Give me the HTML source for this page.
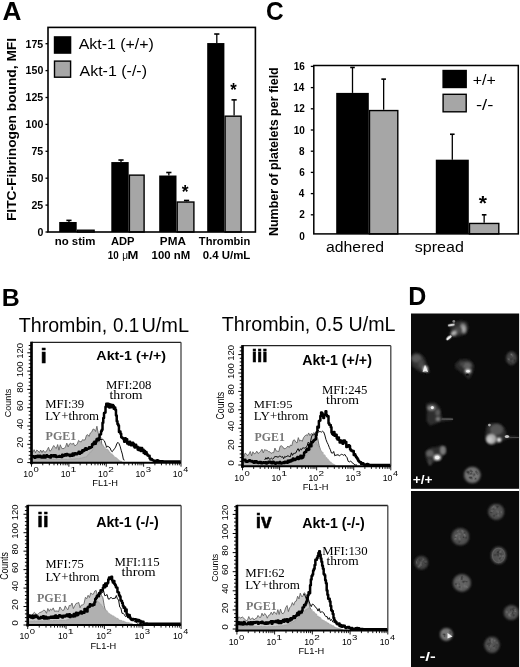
<!DOCTYPE html>
<html><head><meta charset="utf-8"><style>
html,body{margin:0;padding:0;background:#fff;}
body{width:520px;height:667px;overflow:hidden;}
svg{display:block;will-change:transform;}
</style></head><body>
<svg width="520" height="667" viewBox="0 0 520 667">
<rect width="520" height="667" fill="#fff"/>
<text x="2.54" y="20.20" font-family="Liberation Sans" font-size="25" font-weight="bold" fill="#000" textLength="18.94" lengthAdjust="spacingAndGlyphs" >A</text>
<line x1="68.95" y1="221.99" x2="68.95" y2="220.38" stroke="#000" stroke-width="1.3" />
<line x1="66.35" y1="220.38" x2="71.55" y2="220.38" stroke="#000" stroke-width="1.6" />
<rect x="59.20" y="221.99" width="17.50" height="10.01" fill="#000" />
<rect x="77.40" y="230.23" width="16.70" height="1.77" fill="#a6a6a6" stroke="#000" stroke-width="1.4" />
<line x1="121.00" y1="162.06" x2="121.00" y2="160.02" stroke="#000" stroke-width="1.3" />
<line x1="118.40" y1="160.02" x2="123.60" y2="160.02" stroke="#000" stroke-width="1.6" />
<rect x="111.30" y="162.06" width="17.40" height="69.94" fill="#000" />
<rect x="129.40" y="175.13" width="14.70" height="56.87" fill="#a6a6a6" stroke="#000" stroke-width="1.4" />
<line x1="168.85" y1="175.51" x2="168.85" y2="172.50" stroke="#000" stroke-width="1.3" />
<line x1="166.25" y1="172.50" x2="171.45" y2="172.50" stroke="#000" stroke-width="1.6" />
<rect x="159.20" y="175.51" width="17.30" height="56.49" fill="#000" />
<line x1="186.55" y1="201.33" x2="186.55" y2="200.47" stroke="#000" stroke-width="1.3" />
<line x1="183.95" y1="200.47" x2="189.15" y2="200.47" stroke="#000" stroke-width="1.6" />
<rect x="177.20" y="202.03" width="16.70" height="29.97" fill="#a6a6a6" stroke="#000" stroke-width="1.4" />
<line x1="216.80" y1="43.05" x2="216.80" y2="34.02" stroke="#000" stroke-width="1.3" />
<line x1="214.20" y1="34.02" x2="219.40" y2="34.02" stroke="#000" stroke-width="1.6" />
<rect x="207.20" y="43.05" width="17.20" height="188.95" fill="#000" />
<line x1="234.10" y1="115.47" x2="234.10" y2="99.87" stroke="#000" stroke-width="1.3" />
<line x1="231.50" y1="99.87" x2="236.70" y2="99.87" stroke="#000" stroke-width="1.6" />
<rect x="225.10" y="116.17" width="16.00" height="115.83" fill="#a6a6a6" stroke="#000" stroke-width="1.4" />
<rect x="48.0" y="27.4" width="207.4" height="204.6" fill="none" stroke="#000" stroke-width="1.6"/>
<line x1="45.50" y1="232.00" x2="48.00" y2="232.00" stroke="#000" stroke-width="1.3" />
<text x="37.39" y="235.80" font-family="Liberation Sans" font-size="10.6" font-weight="bold" fill="#000" >0</text>
<line x1="45.50" y1="205.10" x2="48.00" y2="205.10" stroke="#000" stroke-width="1.3" />
<text x="31.40" y="208.90" font-family="Liberation Sans" font-size="10.6" font-weight="bold" fill="#000" >25</text>
<line x1="45.50" y1="178.20" x2="48.00" y2="178.20" stroke="#000" stroke-width="1.3" />
<text x="31.50" y="182.00" font-family="Liberation Sans" font-size="10.6" font-weight="bold" fill="#000" >50</text>
<line x1="45.50" y1="151.30" x2="48.00" y2="151.30" stroke="#000" stroke-width="1.3" />
<text x="31.40" y="155.10" font-family="Liberation Sans" font-size="10.6" font-weight="bold" fill="#000" >75</text>
<line x1="45.50" y1="124.40" x2="48.00" y2="124.40" stroke="#000" stroke-width="1.3" />
<text x="25.62" y="128.20" font-family="Liberation Sans" font-size="10.6" font-weight="bold" fill="#000" >100</text>
<line x1="45.50" y1="97.50" x2="48.00" y2="97.50" stroke="#000" stroke-width="1.3" />
<text x="25.52" y="101.30" font-family="Liberation Sans" font-size="10.6" font-weight="bold" fill="#000" >125</text>
<line x1="45.50" y1="70.60" x2="48.00" y2="70.60" stroke="#000" stroke-width="1.3" />
<text x="25.62" y="74.40" font-family="Liberation Sans" font-size="10.6" font-weight="bold" fill="#000" >150</text>
<line x1="45.50" y1="43.70" x2="48.00" y2="43.70" stroke="#000" stroke-width="1.3" />
<text x="25.52" y="47.50" font-family="Liberation Sans" font-size="10.6" font-weight="bold" fill="#000" >175</text>
<rect x="53.80" y="36.20" width="17.50" height="17.60" fill="#000" />
<rect x="54.50" y="61.10" width="16.10" height="16.10" fill="#a6a6a6" stroke="#000" stroke-width="1.4" />
<text x="78.65" y="49.40" font-family="Liberation Sans" font-size="14.3" font-weight="normal" fill="#000" textLength="75.29" lengthAdjust="spacingAndGlyphs" >Akt-1 (+/+)</text>
<text x="79.50" y="76.40" font-family="Liberation Sans" font-size="14.3" font-weight="normal" fill="#000" textLength="67.51" lengthAdjust="spacingAndGlyphs" >Akt-1 (-/-)</text>
<text x="181.70" y="198.05" font-family="Liberation Sans" font-size="18.92" font-weight="bold" fill="#000" textLength="6.79" lengthAdjust="spacingAndGlyphs" >*</text>
<text x="230.20" y="96.12" font-family="Liberation Sans" font-size="17.57" font-weight="bold" fill="#000" textLength="6.49" lengthAdjust="spacingAndGlyphs" >*</text>
<text x="54.66" y="245.10" font-family="Liberation Sans" font-size="10.6" font-weight="bold" fill="#000" textLength="40.64" lengthAdjust="spacingAndGlyphs" >no stim</text>
<text x="110.92" y="245.10" font-family="Liberation Sans" font-size="10.6" font-weight="bold" fill="#000" textLength="23.63" lengthAdjust="spacingAndGlyphs" >ADP</text>
<text x="107.81" y="259.00" font-family="Liberation Sans" font-size="10.6" font-weight="bold" fill="#000" textLength="10.96" lengthAdjust="spacingAndGlyphs" >10</text>
<text x="122.32" y="259.00" font-family="Liberation Sans" font-size="10.0" font-weight="normal" fill="#000" >μ</text>
<text x="127.55" y="259.00" font-family="Liberation Sans" font-size="10.6" font-weight="bold" fill="#000" textLength="10.87" lengthAdjust="spacingAndGlyphs" >M</text>
<text x="159.84" y="245.10" font-family="Liberation Sans" font-size="10.6" font-weight="bold" fill="#000" textLength="26.02" lengthAdjust="spacingAndGlyphs" >PMA</text>
<text x="151.62" y="259.30" font-family="Liberation Sans" font-size="10.6" font-weight="bold" fill="#000" textLength="38.52" lengthAdjust="spacingAndGlyphs" >100 nM</text>
<text x="198.89" y="245.10" font-family="Liberation Sans" font-size="10.6" font-weight="bold" fill="#000" textLength="51.38" lengthAdjust="spacingAndGlyphs" >Thrombin</text>
<text x="202.70" y="259.30" font-family="Liberation Sans" font-size="10.6" font-weight="bold" fill="#000" textLength="47.62" lengthAdjust="spacingAndGlyphs" >0.4 U/mL</text>
<text x="-221.09" y="15.60" font-family="Liberation Sans" font-size="13.2" font-weight="bold" fill="#000" textLength="183.12" lengthAdjust="spacingAndGlyphs" transform="rotate(-90)">FITC-Fibrinogen bound, MFI</text>
<text x="266.02" y="20.20" font-family="Liberation Sans" font-size="25" font-weight="bold" fill="#000" textLength="17.64" lengthAdjust="spacingAndGlyphs" >C</text>
<line x1="352.50" y1="92.90" x2="352.50" y2="67.46" stroke="#000" stroke-width="1.3" />
<line x1="350.20" y1="67.46" x2="354.80" y2="67.46" stroke="#000" stroke-width="1.6" />
<rect x="336.20" y="92.90" width="32.60" height="141.00" fill="#000" />
<line x1="383.65" y1="109.86" x2="383.65" y2="79.12" stroke="#000" stroke-width="1.3" />
<line x1="381.35" y1="79.12" x2="385.95" y2="79.12" stroke="#000" stroke-width="1.6" />
<rect x="369.50" y="110.56" width="28.30" height="123.34" fill="#a6a6a6" stroke="#000" stroke-width="1.4" />
<line x1="452.30" y1="159.68" x2="452.30" y2="134.24" stroke="#000" stroke-width="1.3" />
<line x1="450.00" y1="134.24" x2="454.60" y2="134.24" stroke="#000" stroke-width="1.6" />
<rect x="435.80" y="159.68" width="33.00" height="74.22" fill="#000" />
<line x1="484.15" y1="222.75" x2="484.15" y2="214.80" stroke="#000" stroke-width="1.3" />
<line x1="481.85" y1="214.80" x2="486.45" y2="214.80" stroke="#000" stroke-width="1.6" />
<rect x="469.50" y="223.45" width="29.30" height="10.45" fill="#a6a6a6" stroke="#000" stroke-width="1.4" />
<rect x="313.8" y="65.5" width="204.49999999999994" height="168.4" fill="none" stroke="#000" stroke-width="1.5"/>
<text x="299.20" y="239.50" font-family="Liberation Sans" font-size="10.0" font-weight="bold" fill="#000" >0</text>
<line x1="310.80" y1="214.80" x2="313.80" y2="214.80" stroke="#000" stroke-width="1.3" />
<text x="299.20" y="218.30" font-family="Liberation Sans" font-size="10.0" font-weight="bold" fill="#000" >2</text>
<line x1="310.80" y1="193.60" x2="313.80" y2="193.60" stroke="#000" stroke-width="1.3" />
<text x="298.85" y="197.10" font-family="Liberation Sans" font-size="10.0" font-weight="bold" fill="#000" >4</text>
<line x1="310.80" y1="172.40" x2="313.80" y2="172.40" stroke="#000" stroke-width="1.3" />
<text x="299.20" y="175.90" font-family="Liberation Sans" font-size="10.0" font-weight="bold" fill="#000" >6</text>
<line x1="310.80" y1="151.20" x2="313.80" y2="151.20" stroke="#000" stroke-width="1.3" />
<text x="299.10" y="154.70" font-family="Liberation Sans" font-size="10.0" font-weight="bold" fill="#000" >8</text>
<line x1="310.80" y1="130.00" x2="313.80" y2="130.00" stroke="#000" stroke-width="1.3" />
<text x="293.65" y="133.50" font-family="Liberation Sans" font-size="10.0" font-weight="bold" fill="#000" >10</text>
<line x1="310.80" y1="108.80" x2="313.80" y2="108.80" stroke="#000" stroke-width="1.3" />
<text x="293.65" y="112.30" font-family="Liberation Sans" font-size="10.0" font-weight="bold" fill="#000" >12</text>
<line x1="310.80" y1="87.60" x2="313.80" y2="87.60" stroke="#000" stroke-width="1.3" />
<text x="293.30" y="91.10" font-family="Liberation Sans" font-size="10.0" font-weight="bold" fill="#000" >14</text>
<line x1="310.80" y1="66.40" x2="313.80" y2="66.40" stroke="#000" stroke-width="1.3" />
<text x="293.65" y="69.90" font-family="Liberation Sans" font-size="10.0" font-weight="bold" fill="#000" >16</text>
<rect x="442.40" y="69.80" width="24.50" height="18.40" fill="#000" />
<rect x="443.10" y="94.30" width="23.10" height="17.50" fill="#a6a6a6" stroke="#000" stroke-width="1.4" />
<text x="472.68" y="85.00" font-family="Liberation Sans" font-size="14" font-weight="normal" fill="#000" textLength="23.03" lengthAdjust="spacingAndGlyphs" >+/+</text>
<text x="475.96" y="109.50" font-family="Liberation Sans" font-size="14" font-weight="normal" fill="#000" textLength="17.45" lengthAdjust="spacingAndGlyphs" >-/-</text>
<text x="478.80" y="209.55" font-family="Liberation Sans" font-size="21.08" font-weight="bold" fill="#000" >*</text>
<text x="326.07" y="251.90" font-family="Liberation Sans" font-size="15.5" font-weight="normal" fill="#000" textLength="57.88" lengthAdjust="spacingAndGlyphs" >adhered</text>
<text x="414.80" y="251.90" font-family="Liberation Sans" font-size="15.5" font-weight="normal" fill="#000" textLength="49.01" lengthAdjust="spacingAndGlyphs" >spread</text>
<text x="-236.11" y="277.60" font-family="Liberation Sans" font-size="12.4" font-weight="bold" fill="#000" textLength="168.86" lengthAdjust="spacingAndGlyphs" transform="rotate(-90)">Number of platelets per field</text>
<text x="1.88" y="305.80" font-family="Liberation Sans" font-size="24" font-weight="bold" fill="#000" textLength="17.97" lengthAdjust="spacingAndGlyphs" >B</text>
<text x="18.81" y="331.70" font-family="Liberation Sans" font-size="19.5" font-weight="normal" fill="#000" textLength="88.29" lengthAdjust="spacingAndGlyphs" >Thrombin,</text>
<text x="113.04" y="331.70" font-family="Liberation Sans" font-size="19.5" font-weight="normal" fill="#000" textLength="26.21" lengthAdjust="spacingAndGlyphs" >0.1</text>
<text x="141.40" y="331.70" font-family="Liberation Sans" font-size="19.5" font-weight="normal" fill="#000" textLength="47.68" lengthAdjust="spacingAndGlyphs" >U/mL</text>
<text x="221.81" y="331.40" font-family="Liberation Sans" font-size="19.5" font-weight="normal" fill="#000" textLength="173.72" lengthAdjust="spacingAndGlyphs" >Thrombin, 0.5 U/mL</text>
<g>
<path d="M31.50,451.59 L32.81,452.45 L34.12,449.64 L35.42,452.72 L36.73,450.10 L38.04,450.95 L39.35,452.58 L40.66,450.00 L41.97,452.55 L43.27,450.24 L44.58,452.21 L45.89,451.96 L47.20,449.84 L48.51,447.26 L49.81,451.16 L51.12,450.36 L52.43,447.70 L53.74,445.51 L55.05,447.53 L56.35,448.42 L57.66,444.55 L58.97,450.20 L60.28,444.78 L61.59,448.11 L62.90,448.67 L64.20,448.46 L65.51,446.83 L66.82,443.13 L68.13,446.89 L69.44,443.89 L70.74,443.13 L72.05,444.48 L73.36,442.95 L74.67,445.73 L75.98,445.36 L77.28,443.95 L78.59,440.41 L79.90,441.60 L81.21,441.89 L82.52,439.67 L83.82,440.08 L85.13,439.81 L86.44,435.32 L87.75,434.67 L89.06,436.37 L90.37,432.95 L91.67,432.15 L92.98,429.13 L94.29,429.33 L95.60,431.46 L96.91,426.21 L98.21,433.15 L99.52,435.26 L100.83,437.42 L102.14,446.12 L103.45,449.04 L104.75,456.27 L106.06,460.17 L106.06,462.70 L31.50,462.70 Z" fill="#bdbdbd" stroke="#555" stroke-width="0.8" stroke-linejoin="round"/>
<path d="M31.50,459.06 L32.25,459.06 L32.25,459.19 L32.99,459.19 L32.99,458.99 L33.74,458.99 L33.74,459.36 L34.49,459.36 L34.49,459.11 L35.24,459.11 L35.24,459.18 L35.98,459.18 L35.98,459.18 L36.73,459.18 L36.73,459.27 L37.48,459.27 L37.48,459.02 L38.23,459.02 L38.23,458.95 L38.98,458.95 L38.98,459.25 L39.72,459.25 L39.72,459.13 L40.47,459.13 L40.47,459.52 L41.22,459.52 L41.22,459.11 L41.96,459.11 L41.96,459.14 L42.71,459.14 L42.71,458.92 L43.46,458.92 L43.46,459.03 L44.21,459.03 L44.21,459.38 L44.95,459.38 L44.95,459.31 L45.70,459.31 L45.70,459.13 L46.45,459.13 L46.45,459.55 L47.20,459.55 L47.20,459.26 L47.95,459.26 L47.95,459.45 L48.69,459.45 L48.69,459.49 L49.44,459.49 L49.44,459.52 L50.19,459.52 L50.19,459.06 L50.94,459.06 L50.94,459.48 L51.68,459.48 L51.68,459.40 L52.43,459.40 L52.43,459.31 L53.18,459.31 L53.18,458.99 L53.93,458.99 L53.93,459.51 L54.67,459.51 L54.67,459.27 L55.42,459.27 L55.42,459.20 L56.17,459.20 L56.17,458.99 L56.92,458.99 L56.92,459.03 L57.66,459.03 L57.66,459.00 L58.41,459.00 L58.41,459.38 L59.16,459.38 L59.16,459.29 L59.91,459.29 L59.91,459.33 L60.65,459.33 L60.65,458.99 L61.40,458.99 L61.40,458.94 L62.15,458.94 L62.15,459.46 L62.90,459.46 L62.90,459.45 L63.64,459.45 L63.64,459.41 L64.39,459.41 L64.39,459.41 L65.14,459.41 L65.14,459.25 L65.89,459.25 L65.89,459.18 L66.63,459.18 L66.63,459.39 L67.38,459.39 L67.38,459.56 L68.13,459.56 L68.13,459.29 L68.88,459.29 L68.88,459.32 L69.62,459.32 L69.62,459.15 L70.37,459.15 L70.37,458.86 L71.12,458.86 L71.12,458.99 L71.87,458.99 L71.87,459.07 L72.61,459.07 L72.61,458.96 L73.36,458.96 L73.36,458.88 L74.11,458.88 L74.11,459.26 L74.86,459.26 L74.86,458.65 L75.60,458.65 L75.60,458.69 L76.35,458.69 L76.35,458.59 L77.10,458.59 L77.10,458.60 L77.85,458.60 L77.85,458.75 L78.59,458.75 L78.59,458.54 L79.34,458.54 L79.34,458.54 L80.09,458.54 L80.09,457.94 L80.84,457.94 L80.84,458.15 L81.58,458.15 L81.58,457.94 L82.33,457.94 L82.33,457.63 L83.08,457.63 L83.08,457.45 L83.83,457.45 L83.83,457.10 L84.57,457.10 L84.57,457.13 L85.32,457.13 L85.32,456.96 L86.07,456.96 L86.07,456.63 L86.82,456.63 L86.82,455.89 L87.56,455.89 L87.56,454.85 L88.31,454.85 L88.31,454.39 L89.06,454.39 L89.06,452.72 L89.81,452.72 L89.81,452.18 L90.55,452.18 L90.55,451.90 L91.30,451.90 L91.30,450.90 L92.05,450.90 L92.05,449.83 L92.80,449.83 L92.80,448.85 L93.54,448.85 L93.54,448.22 L94.29,448.22 L94.29,446.22 L95.04,446.22 L95.04,445.04 L95.79,445.04 L95.79,444.83 L96.53,444.83 L96.53,443.94 L97.28,443.94 L97.28,443.74 L98.03,443.74 L98.03,442.94 L98.78,442.94 L98.78,441.81 L99.52,441.81 L99.52,442.68 L100.27,442.68 L100.27,442.62 L101.02,442.62 L101.02,444.34 L101.77,444.34 L101.77,445.29 L102.51,445.29 L102.51,444.70 L103.26,444.70 L103.26,446.07 L104.01,446.07 L104.01,447.33 L104.76,447.33 L104.76,447.47 L105.50,447.47 L105.50,448.89 L106.25,448.89 L106.25,448.92 L107.00,448.92 L107.00,449.06 L107.75,449.06 L107.75,449.94 L108.49,449.94 L108.49,450.86 L109.24,450.86 L109.24,452.11 L109.99,452.11 L109.99,452.73 L110.74,452.73 L110.74,453.68 L111.48,453.68 L111.48,453.82 L112.23,453.82 L112.23,454.81 L112.98,454.81 L112.98,455.34 L113.73,455.34 L113.73,456.48 L114.47,456.48 L114.47,457.17 L115.22,457.17 L115.22,457.32 L115.97,457.32 L115.97,457.81 L116.72,457.81 L116.72,458.53 L117.46,458.53 L117.46,459.18 L118.21,459.18 L118.21,459.79 L118.96,459.79 L118.96,460.46 L119.71,460.46 L119.71,460.97 L120.45,460.97 L120.45,461.04 L121.20,461.04 L121.20,461.27 L121.95,461.27 L121.95,461.50 L121.95,462.70 L31.50,462.70 Z" fill="#b0b0b0" stroke="#9a9a9a" stroke-width="0.4"/>
<path d="M98.78,437.74 L99.90,439.28 L101.02,439.68 L102.14,439.10 L103.26,439.80 L104.38,440.86 L105.50,443.96 L106.62,447.35 L107.75,446.16 L108.87,447.03 L109.99,447.74 L111.11,450.67 L112.23,451.73 L113.35,450.17 L114.47,448.77 L115.59,447.14 L116.71,444.02 L117.84,442.29 L118.96,443.54 L120.08,446.21 L121.20,450.27 L122.32,454.08 L123.44,459.70 L124.56,460.11" fill="none" stroke="#000" stroke-width="0.95" stroke-linejoin="round"/>
<path d="M31.50,455.99 L32.25,455.99 L32.25,456.27 L32.99,456.27 L32.99,456.33 L33.74,456.33 L33.74,456.96 L34.49,456.96 L34.49,457.65 L35.24,457.65 L35.24,456.16 L35.98,456.16 L35.98,457.24 L36.73,457.24 L36.73,456.08 L37.48,456.08 L37.48,455.64 L38.23,455.64 L38.23,457.02 L38.98,457.02 L38.98,456.98 L39.72,456.98 L39.72,455.63 L40.47,455.63 L40.47,456.15 L41.22,456.15 L41.22,457.48 L41.96,457.48 L41.96,457.56 L42.71,457.56 L42.71,457.48 L43.46,457.48 L43.46,455.61 L44.21,455.61 L44.21,455.82 L44.95,455.82 L44.95,457.43 L45.70,457.43 L45.70,455.72 L46.45,455.72 L46.45,455.32 L47.20,455.32 L47.20,456.10 L47.95,456.10 L47.95,456.84 L48.69,456.84 L48.69,456.32 L49.44,456.32 L49.44,457.34 L50.19,457.34 L50.19,457.61 L50.94,457.61 L50.94,455.19 L51.68,455.19 L51.68,455.97 L52.43,455.97 L52.43,456.26 L53.18,456.26 L53.18,455.21 L53.93,455.21 L53.93,456.44 L54.67,456.44 L54.67,455.31 L55.42,455.31 L55.42,455.40 L56.17,455.40 L56.17,456.94 L56.92,456.94 L56.92,456.82 L57.66,456.82 L57.66,456.69 L58.41,456.69 L58.41,456.80 L59.16,456.80 L59.16,455.89 L59.91,455.89 L59.91,456.71 L60.65,456.71 L60.65,456.28 L61.40,456.28 L61.40,456.91 L62.15,456.91 L62.15,454.78 L62.90,454.78 L62.90,456.12 L63.64,456.12 L63.64,455.74 L64.39,455.74 L64.39,455.29 L65.14,455.29 L65.14,454.32 L65.89,454.32 L65.89,455.51 L66.63,455.51 L66.63,454.04 L67.38,454.04 L67.38,455.07 L68.13,455.07 L68.13,454.88 L68.88,454.88 L68.88,454.79 L69.62,454.79 L69.62,456.10 L70.37,456.10 L70.37,454.80 L71.12,454.80 L71.12,455.43 L71.87,455.43 L71.87,455.84 L72.61,455.84 L72.61,453.43 L73.36,453.43 L73.36,455.15 L74.11,455.15 L74.11,454.16 L74.86,454.16 L74.86,453.30 L75.60,453.30 L75.60,453.69 L76.35,453.69 L76.35,454.18 L77.10,454.18 L77.10,453.30 L77.85,453.30 L77.85,452.88 L78.59,452.88 L78.59,451.84 L79.34,451.84 L79.34,453.73 L80.09,453.73 L80.09,451.95 L80.84,451.95 L80.84,452.69 L81.58,452.69 L81.58,452.31 L82.33,452.31 L82.33,450.29 L83.08,450.29 L83.08,450.91 L83.83,450.91 L83.83,450.41 L84.57,450.41 L84.57,449.32 L85.32,449.32 L85.32,448.37 L86.07,448.37 L86.07,449.77 L86.82,449.77 L86.82,448.75 L87.56,448.75 L87.56,448.80 L88.31,448.80 L88.31,448.42 L89.06,448.42 L89.06,447.31 L89.81,447.31 L89.81,447.94 L90.55,447.94 L90.55,447.24 L91.30,447.24 L91.30,447.11 L92.05,447.11 L92.05,444.25 L92.80,444.25 L92.80,444.45 L93.54,444.45 L93.54,442.82 L94.29,442.82 L94.29,441.69 L95.04,441.69 L95.04,443.80 L95.79,443.80 L95.79,441.65 L96.53,441.65 L96.53,439.13 L97.28,439.13 L97.28,438.72 L98.03,438.72 L98.03,440.28 L98.78,440.28 L98.78,438.21 L99.52,438.21 L99.52,434.68 L100.27,434.68 L100.27,434.14 L101.02,434.14 L101.02,431.27 L101.77,431.27 L101.77,429.86 L102.51,429.86 L102.51,422.87 L103.26,422.87 L103.26,417.98 L104.01,417.98 L104.01,413.09 L104.76,413.09 L104.76,412.49 L105.50,412.49 L105.50,406.79 L106.25,406.79 L106.25,403.77 L107.00,403.77 L107.00,406.54 L107.75,406.54 L107.75,403.84 L108.49,403.84 L108.49,403.99 L109.24,403.99 L109.24,407.60 L109.99,407.60 L109.99,404.61 L110.74,404.61 L110.74,407.22 L111.48,407.22 L111.48,407.04 L112.23,407.04 L112.23,405.06 L112.98,405.06 L112.98,405.74 L113.73,405.74 L113.73,408.66 L114.47,408.66 L114.47,407.48 L115.22,407.48 L115.22,409.65 L115.97,409.65 L115.97,415.49 L116.72,415.49 L116.72,421.18 L117.46,421.18 L117.46,423.97 L118.21,423.97 L118.21,425.53 L118.96,425.53 L118.96,431.90 L119.71,431.90 L119.71,431.39 L120.45,431.39 L120.45,433.70 L121.20,433.70 L121.20,437.34 L121.95,437.34 L121.95,437.79 L122.70,437.79 L122.70,438.33 L123.44,438.33 L123.44,439.31 L124.19,439.31 L124.19,441.75 L124.94,441.75 L124.94,438.24 L125.69,438.24 L125.69,439.59 L126.43,439.59 L126.43,439.29 L127.18,439.29 L127.18,443.49 L127.93,443.49 L127.93,443.17 L128.68,443.17 L128.68,444.53 L129.42,444.53 L129.42,441.69 L130.17,441.69 L130.17,444.28 L130.92,444.28 L130.92,445.27 L131.67,445.27 L131.67,444.43 L132.41,444.43 L132.41,442.80 L133.16,442.80 L133.16,443.69 L133.91,443.69 L133.91,446.62 L134.66,446.62 L134.66,447.58 L135.40,447.58 L135.40,444.73 L136.15,444.73 L136.15,446.74 L136.90,446.74 L136.90,446.63 L137.65,446.63 L137.65,449.55 L138.39,449.55 L138.39,450.03 L139.14,450.03 L139.14,447.85 L139.89,447.85 L139.89,449.27 L140.64,449.27 L140.64,451.00 L141.38,451.00 L141.38,448.07 L142.13,448.07 L142.13,449.73 L142.88,449.73 L142.88,449.77 L143.63,449.77 L143.63,452.90 L144.37,452.90 L144.37,450.90 L145.12,450.90 L145.12,454.10 L145.87,454.10 L145.87,452.21 L146.62,452.21 L146.62,454.08 L147.36,454.08 L147.36,455.21 L148.11,455.21 L148.11,455.63 L148.86,455.63 L148.86,455.74 L149.61,455.74 L149.61,458.30 L150.35,458.30 L150.35,459.54 L151.10,459.54 L151.10,458.99 L151.85,458.99 L151.85,459.81 L152.60,459.81 L152.60,460.30 L153.34,460.30 L153.34,460.44 L154.09,460.44 L154.09,460.88 L154.84,460.88 L154.84,460.86 L155.59,460.86 L155.59,460.91 L156.33,460.91 L156.33,461.00 L157.08,461.00 L157.08,460.33 L157.83,460.33 L157.83,461.19 L158.58,461.19 L158.58,460.92 L159.32,460.92 L159.32,461.50 L160.07,461.50 L160.07,461.33 L160.82,461.33 L160.82,461.50 L161.57,461.50 L161.57,461.25 L162.31,461.25 L162.31,461.34 L163.06,461.34 L163.06,461.42 L163.81,461.42 L163.81,461.50 L164.56,461.50 L164.56,461.50 L165.30,461.50 L165.30,461.50 L166.05,461.50 L166.05,461.50 L166.80,461.50 L166.80,461.50 L167.55,461.50 L167.55,461.50 L168.29,461.50 L168.29,461.50 L169.04,461.50 L169.04,461.50 L169.79,461.50 L169.79,461.50 L170.54,461.50 L170.54,461.50 L171.28,461.50 L171.28,461.50 L172.03,461.50 L172.03,461.50 L172.78,461.50 L172.78,461.50 L173.53,461.50 L173.53,461.50 L174.27,461.50 L174.27,461.50 L175.02,461.50 L175.02,461.50 L175.77,461.50 L175.77,461.50 L176.52,461.50 L176.52,461.50 L177.26,461.50 L177.26,461.50 L178.01,461.50 L178.01,461.50 L178.76,461.50 L178.76,461.50 L179.51,461.50 L179.51,461.50 L180.25,461.50 L180.25,461.50 L181.00,461.50 L181.00,461.50" fill="none" stroke="#000" stroke-width="2.5" stroke-linejoin="round"/>
<line x1="31.50" y1="342.30" x2="181.00" y2="342.30" stroke="#222" stroke-width="1.3" />
<line x1="181.00" y1="342.30" x2="181.00" y2="462.70" stroke="#444" stroke-width="1.3" />
<line x1="31.50" y1="341.70" x2="31.50" y2="464.20" stroke="#000" stroke-width="2.7" />
<line x1="30.20" y1="462.70" x2="181.00" y2="462.70" stroke="#000" stroke-width="2.0" />
<line x1="27.30" y1="462.60" x2="31.50" y2="462.60" stroke="#000" stroke-width="1.0" />
<line x1="28.70" y1="458.94" x2="31.50" y2="458.94" stroke="#000" stroke-width="1.0" />
<line x1="28.70" y1="455.28" x2="31.50" y2="455.28" stroke="#000" stroke-width="1.0" />
<line x1="28.70" y1="451.62" x2="31.50" y2="451.62" stroke="#000" stroke-width="1.0" />
<line x1="28.70" y1="447.96" x2="31.50" y2="447.96" stroke="#000" stroke-width="1.0" />
<line x1="27.30" y1="444.30" x2="31.50" y2="444.30" stroke="#000" stroke-width="1.0" />
<line x1="28.70" y1="440.64" x2="31.50" y2="440.64" stroke="#000" stroke-width="1.0" />
<line x1="28.70" y1="436.98" x2="31.50" y2="436.98" stroke="#000" stroke-width="1.0" />
<line x1="28.70" y1="433.32" x2="31.50" y2="433.32" stroke="#000" stroke-width="1.0" />
<line x1="28.70" y1="429.66" x2="31.50" y2="429.66" stroke="#000" stroke-width="1.0" />
<line x1="27.30" y1="426.00" x2="31.50" y2="426.00" stroke="#000" stroke-width="1.0" />
<line x1="28.70" y1="422.34" x2="31.50" y2="422.34" stroke="#000" stroke-width="1.0" />
<line x1="28.70" y1="418.68" x2="31.50" y2="418.68" stroke="#000" stroke-width="1.0" />
<line x1="28.70" y1="415.02" x2="31.50" y2="415.02" stroke="#000" stroke-width="1.0" />
<line x1="28.70" y1="411.36" x2="31.50" y2="411.36" stroke="#000" stroke-width="1.0" />
<line x1="27.30" y1="407.70" x2="31.50" y2="407.70" stroke="#000" stroke-width="1.0" />
<line x1="28.70" y1="404.04" x2="31.50" y2="404.04" stroke="#000" stroke-width="1.0" />
<line x1="28.70" y1="400.38" x2="31.50" y2="400.38" stroke="#000" stroke-width="1.0" />
<line x1="28.70" y1="396.72" x2="31.50" y2="396.72" stroke="#000" stroke-width="1.0" />
<line x1="28.70" y1="393.06" x2="31.50" y2="393.06" stroke="#000" stroke-width="1.0" />
<line x1="27.30" y1="389.40" x2="31.50" y2="389.40" stroke="#000" stroke-width="1.0" />
<line x1="28.70" y1="385.74" x2="31.50" y2="385.74" stroke="#000" stroke-width="1.0" />
<line x1="28.70" y1="382.08" x2="31.50" y2="382.08" stroke="#000" stroke-width="1.0" />
<line x1="28.70" y1="378.42" x2="31.50" y2="378.42" stroke="#000" stroke-width="1.0" />
<line x1="28.70" y1="374.76" x2="31.50" y2="374.76" stroke="#000" stroke-width="1.0" />
<line x1="27.30" y1="371.10" x2="31.50" y2="371.10" stroke="#000" stroke-width="1.0" />
<line x1="28.70" y1="367.44" x2="31.50" y2="367.44" stroke="#000" stroke-width="1.0" />
<line x1="28.70" y1="363.78" x2="31.50" y2="363.78" stroke="#000" stroke-width="1.0" />
<line x1="28.70" y1="360.12" x2="31.50" y2="360.12" stroke="#000" stroke-width="1.0" />
<line x1="28.70" y1="356.46" x2="31.50" y2="356.46" stroke="#000" stroke-width="1.0" />
<line x1="27.30" y1="352.80" x2="31.50" y2="352.80" stroke="#000" stroke-width="1.0" />
<line x1="28.70" y1="349.14" x2="31.50" y2="349.14" stroke="#000" stroke-width="1.0" />
<line x1="28.70" y1="345.48" x2="31.50" y2="345.48" stroke="#000" stroke-width="1.0" />
<text x="-463.40" y="22.60" font-family="Liberation Sans" font-size="8.8" font-weight="normal" fill="#000" textLength="5.62" lengthAdjust="spacingAndGlyphs" transform="rotate(-90)">0</text>
<text x="-447.68" y="22.60" font-family="Liberation Sans" font-size="8.8" font-weight="normal" fill="#000" textLength="10.64" lengthAdjust="spacingAndGlyphs" transform="rotate(-90)">20</text>
<text x="-429.09" y="22.60" font-family="Liberation Sans" font-size="8.8" font-weight="normal" fill="#000" textLength="10.33" lengthAdjust="spacingAndGlyphs" transform="rotate(-90)">40</text>
<text x="-411.08" y="22.60" font-family="Liberation Sans" font-size="8.8" font-weight="normal" fill="#000" textLength="10.64" lengthAdjust="spacingAndGlyphs" transform="rotate(-90)">60</text>
<text x="-392.68" y="22.60" font-family="Liberation Sans" font-size="8.8" font-weight="normal" fill="#000" textLength="10.53" lengthAdjust="spacingAndGlyphs" transform="rotate(-90)">80</text>
<text x="-377.16" y="22.60" font-family="Liberation Sans" font-size="8.8" font-weight="normal" fill="#000" textLength="15.77" lengthAdjust="spacingAndGlyphs" transform="rotate(-90)">100</text>
<text x="-358.86" y="22.60" font-family="Liberation Sans" font-size="8.8" font-weight="normal" fill="#000" textLength="15.77" lengthAdjust="spacingAndGlyphs" transform="rotate(-90)">120</text>
<line x1="31.50" y1="462.70" x2="31.50" y2="466.70" stroke="#000" stroke-width="0.9" />
<line x1="42.75" y1="462.70" x2="42.75" y2="465.30" stroke="#000" stroke-width="0.9" />
<line x1="49.33" y1="462.70" x2="49.33" y2="465.30" stroke="#000" stroke-width="0.9" />
<line x1="54.00" y1="462.70" x2="54.00" y2="465.30" stroke="#000" stroke-width="0.9" />
<line x1="57.62" y1="462.70" x2="57.62" y2="465.30" stroke="#000" stroke-width="0.9" />
<line x1="60.58" y1="462.70" x2="60.58" y2="465.30" stroke="#000" stroke-width="0.9" />
<line x1="63.09" y1="462.70" x2="63.09" y2="465.30" stroke="#000" stroke-width="0.9" />
<line x1="65.25" y1="462.70" x2="65.25" y2="465.30" stroke="#000" stroke-width="0.9" />
<line x1="67.16" y1="462.70" x2="67.16" y2="465.30" stroke="#000" stroke-width="0.9" />
<line x1="68.88" y1="462.70" x2="68.88" y2="466.70" stroke="#000" stroke-width="0.9" />
<line x1="80.13" y1="462.70" x2="80.13" y2="465.30" stroke="#000" stroke-width="0.9" />
<line x1="86.71" y1="462.70" x2="86.71" y2="465.30" stroke="#000" stroke-width="0.9" />
<line x1="91.38" y1="462.70" x2="91.38" y2="465.30" stroke="#000" stroke-width="0.9" />
<line x1="95.00" y1="462.70" x2="95.00" y2="465.30" stroke="#000" stroke-width="0.9" />
<line x1="97.96" y1="462.70" x2="97.96" y2="465.30" stroke="#000" stroke-width="0.9" />
<line x1="100.46" y1="462.70" x2="100.46" y2="465.30" stroke="#000" stroke-width="0.9" />
<line x1="102.63" y1="462.70" x2="102.63" y2="465.30" stroke="#000" stroke-width="0.9" />
<line x1="104.54" y1="462.70" x2="104.54" y2="465.30" stroke="#000" stroke-width="0.9" />
<line x1="106.25" y1="462.70" x2="106.25" y2="466.70" stroke="#000" stroke-width="0.9" />
<line x1="117.50" y1="462.70" x2="117.50" y2="465.30" stroke="#000" stroke-width="0.9" />
<line x1="124.08" y1="462.70" x2="124.08" y2="465.30" stroke="#000" stroke-width="0.9" />
<line x1="128.75" y1="462.70" x2="128.75" y2="465.30" stroke="#000" stroke-width="0.9" />
<line x1="132.37" y1="462.70" x2="132.37" y2="465.30" stroke="#000" stroke-width="0.9" />
<line x1="135.33" y1="462.70" x2="135.33" y2="465.30" stroke="#000" stroke-width="0.9" />
<line x1="137.84" y1="462.70" x2="137.84" y2="465.30" stroke="#000" stroke-width="0.9" />
<line x1="140.00" y1="462.70" x2="140.00" y2="465.30" stroke="#000" stroke-width="0.9" />
<line x1="141.91" y1="462.70" x2="141.91" y2="465.30" stroke="#000" stroke-width="0.9" />
<line x1="143.62" y1="462.70" x2="143.62" y2="466.70" stroke="#000" stroke-width="0.9" />
<line x1="154.88" y1="462.70" x2="154.88" y2="465.30" stroke="#000" stroke-width="0.9" />
<line x1="161.46" y1="462.70" x2="161.46" y2="465.30" stroke="#000" stroke-width="0.9" />
<line x1="166.13" y1="462.70" x2="166.13" y2="465.30" stroke="#000" stroke-width="0.9" />
<line x1="169.75" y1="462.70" x2="169.75" y2="465.30" stroke="#000" stroke-width="0.9" />
<line x1="172.71" y1="462.70" x2="172.71" y2="465.30" stroke="#000" stroke-width="0.9" />
<line x1="175.21" y1="462.70" x2="175.21" y2="465.30" stroke="#000" stroke-width="0.9" />
<line x1="177.38" y1="462.70" x2="177.38" y2="465.30" stroke="#000" stroke-width="0.9" />
<line x1="179.29" y1="462.70" x2="179.29" y2="465.30" stroke="#000" stroke-width="0.9" />
<line x1="181.00" y1="462.70" x2="181.00" y2="466.70" stroke="#000" stroke-width="0.9" />
<text x="23.33" y="477.11" font-family="Liberation Sans" font-size="8.73" font-weight="normal" fill="#000" >10</text>
<text x="33.57" y="471.93" font-family="Liberation Sans" font-size="6.62" font-weight="normal" fill="#000" textLength="5.28" lengthAdjust="spacingAndGlyphs" >0</text>
<text x="60.71" y="477.11" font-family="Liberation Sans" font-size="8.73" font-weight="normal" fill="#000" >10</text>
<text x="70.48" y="472.00" font-family="Liberation Sans" font-size="6.81" font-weight="normal" fill="#000" textLength="5.88" lengthAdjust="spacingAndGlyphs" >1</text>
<text x="98.08" y="477.11" font-family="Liberation Sans" font-size="8.73" font-weight="normal" fill="#000" >10</text>
<text x="108.15" y="472.00" font-family="Liberation Sans" font-size="6.71" font-weight="normal" fill="#000" textLength="5.56" lengthAdjust="spacingAndGlyphs" >2</text>
<text x="135.46" y="477.11" font-family="Liberation Sans" font-size="8.73" font-weight="normal" fill="#000" >10</text>
<text x="145.69" y="471.93" font-family="Liberation Sans" font-size="6.62" font-weight="normal" fill="#000" textLength="5.33" lengthAdjust="spacingAndGlyphs" >3</text>
<text x="172.83" y="477.11" font-family="Liberation Sans" font-size="8.73" font-weight="normal" fill="#000" >10</text>
<text x="183.22" y="472.00" font-family="Liberation Sans" font-size="6.81" font-weight="normal" fill="#000" textLength="5.02" lengthAdjust="spacingAndGlyphs" >4</text>
<text x="92.31" y="486.30" font-family="Liberation Sans" font-size="8.55" font-weight="normal" fill="#000" textLength="25.77" lengthAdjust="spacingAndGlyphs" >FL1-H</text>
<text x="-417.15" y="11.01" font-family="Liberation Sans" font-size="9.44" font-weight="normal" fill="#000" textLength="28.35" lengthAdjust="spacingAndGlyphs" transform="rotate(-90)">Counts</text>
<text x="40.42" y="362.70" font-family="Liberation Sans" font-size="20.28" font-weight="bold" fill="#000" textLength="6.32" lengthAdjust="spacingAndGlyphs" stroke="#000" stroke-width="0.5">i</text>
<text x="96.34" y="359.90" font-family="Liberation Sans" font-size="13.52" font-weight="bold" fill="#000" textLength="69.77" lengthAdjust="spacingAndGlyphs" >Akt-1 (+/+)</text>
<text x="45.28" y="407.52" font-family="Liberation Serif" font-size="12.0" font-weight="normal" fill="#000" textLength="38.94" lengthAdjust="spacingAndGlyphs" >MFI:39</text>
<text x="45.28" y="419.68" font-family="Liberation Serif" font-size="11.77" font-weight="normal" fill="#000" textLength="53.86" lengthAdjust="spacingAndGlyphs" >LY+throm</text>
<text x="105.93" y="388.81" font-family="Liberation Serif" font-size="12.35" font-weight="normal" fill="#000" textLength="45.53" lengthAdjust="spacingAndGlyphs" >MFI:208</text>
<text x="109.53" y="398.98" font-family="Liberation Serif" font-size="12.34" font-weight="normal" fill="#000" textLength="33.06" lengthAdjust="spacingAndGlyphs" >throm</text>
<text x="45.62" y="440.47" font-family="Liberation Serif" font-size="13.13" font-weight="bold" fill="#777" textLength="30.79" lengthAdjust="spacingAndGlyphs" >PGE1</text>
</g>
<g>
<path d="M242.50,455.91 L243.80,457.05 L245.10,453.07 L246.39,453.92 L247.69,455.77 L248.99,454.09 L250.29,451.41 L251.58,455.89 L252.88,451.78 L254.18,453.82 L255.48,453.34 L256.77,451.16 L258.07,453.47 L259.37,452.58 L260.67,451.27 L261.96,449.25 L263.26,452.88 L264.56,449.64 L265.86,450.17 L267.15,450.37 L268.45,451.59 L269.75,451.74 L271.05,453.40 L272.35,452.64 L273.64,452.73 L274.94,448.07 L276.24,450.95 L277.54,451.27 L278.83,451.49 L280.13,446.26 L281.43,445.78 L282.73,446.80 L284.02,448.83 L285.32,448.54 L286.62,447.66 L287.92,446.03 L289.21,447.45 L290.51,445.02 L291.81,445.67 L293.11,440.56 L294.40,439.82 L295.70,441.84 L297.00,443.06 L298.30,437.60 L299.60,441.13 L300.89,440.06 L302.19,441.42 L303.49,437.82 L304.79,436.09 L306.08,434.79 L307.38,435.64 L308.68,432.95 L309.98,435.69 L311.27,433.47 L312.57,434.30 L313.87,432.55 L315.17,435.15 L316.46,435.54 L317.76,438.72 L319.06,445.16 L320.36,449.73 L321.66,456.80 L322.95,462.58 L322.95,466.30 L242.50,466.30 Z" fill="#bdbdbd" stroke="#555" stroke-width="0.8" stroke-linejoin="round"/>
<path d="M242.50,462.27 L243.24,462.27 L243.24,462.23 L243.98,462.23 L243.98,462.12 L244.72,462.12 L244.72,462.46 L245.47,462.46 L245.47,462.50 L246.21,462.50 L246.21,462.05 L246.95,462.05 L246.95,462.62 L247.69,462.62 L247.69,462.23 L248.43,462.23 L248.43,462.28 L249.17,462.28 L249.17,462.69 L249.91,462.69 L249.91,462.15 L250.66,462.15 L250.66,462.11 L251.40,462.11 L251.40,462.29 L252.14,462.29 L252.14,462.22 L252.88,462.22 L252.88,462.17 L253.62,462.17 L253.62,462.63 L254.36,462.63 L254.36,462.36 L255.11,462.36 L255.11,462.38 L255.85,462.38 L255.85,462.15 L256.59,462.15 L256.59,462.17 L257.33,462.17 L257.33,462.16 L258.07,462.16 L258.07,462.32 L258.81,462.32 L258.81,462.11 L259.55,462.11 L259.55,462.25 L260.30,462.25 L260.30,462.25 L261.04,462.25 L261.04,462.56 L261.78,462.56 L261.78,462.70 L262.52,462.70 L262.52,462.63 L263.26,462.63 L263.26,462.47 L264.00,462.47 L264.00,462.65 L264.75,462.65 L264.75,462.15 L265.49,462.15 L265.49,462.34 L266.23,462.34 L266.23,462.29 L266.97,462.29 L266.97,462.29 L267.71,462.29 L267.71,462.26 L268.45,462.26 L268.45,462.39 L269.19,462.39 L269.19,462.72 L269.94,462.72 L269.94,462.18 L270.68,462.18 L270.68,462.21 L271.42,462.21 L271.42,462.38 L272.16,462.38 L272.16,462.36 L272.90,462.36 L272.90,462.27 L273.64,462.27 L273.64,462.68 L274.38,462.68 L274.38,462.22 L275.13,462.22 L275.13,462.55 L275.87,462.55 L275.87,462.67 L276.61,462.67 L276.61,462.54 L277.35,462.54 L277.35,462.22 L278.09,462.22 L278.09,462.58 L278.83,462.58 L278.83,462.22 L279.58,462.22 L279.58,462.06 L280.32,462.06 L280.32,462.38 L281.06,462.38 L281.06,462.46 L281.80,462.46 L281.80,462.39 L282.54,462.39 L282.54,462.25 L283.28,462.25 L283.28,462.20 L284.02,462.20 L284.02,462.30 L284.77,462.30 L284.77,462.28 L285.51,462.28 L285.51,462.67 L286.25,462.67 L286.25,462.62 L286.99,462.62 L286.99,462.55 L287.73,462.55 L287.73,462.06 L288.47,462.06 L288.47,462.21 L289.21,462.21 L289.21,461.87 L289.96,461.87 L289.96,462.12 L290.70,462.12 L290.70,461.93 L291.44,461.93 L291.44,461.63 L292.18,461.63 L292.18,461.17 L292.92,461.17 L292.92,461.00 L293.66,461.00 L293.66,460.86 L294.41,460.86 L294.41,461.00 L295.15,461.00 L295.15,460.67 L295.89,460.67 L295.89,460.56 L296.63,460.56 L296.63,460.41 L297.37,460.41 L297.37,460.54 L298.11,460.54 L298.11,459.74 L298.85,459.74 L298.85,460.17 L299.60,460.17 L299.60,459.24 L300.34,459.24 L300.34,458.89 L301.08,458.89 L301.08,459.34 L301.82,459.34 L301.82,458.56 L302.56,458.56 L302.56,457.85 L303.30,457.85 L303.30,457.32 L304.04,457.32 L304.04,457.45 L304.79,457.45 L304.79,457.03 L305.53,457.03 L305.53,456.25 L306.27,456.25 L306.27,454.57 L307.01,454.57 L307.01,454.58 L307.75,454.58 L307.75,453.27 L308.49,453.27 L308.49,452.85 L309.24,452.85 L309.24,451.19 L309.98,451.19 L309.98,449.42 L310.72,449.42 L310.72,449.46 L311.46,449.46 L311.46,447.32 L312.20,447.32 L312.20,446.62 L312.94,446.62 L312.94,445.09 L313.68,445.09 L313.68,444.55 L314.43,444.55 L314.43,444.43 L315.17,444.43 L315.17,442.66 L315.91,442.66 L315.91,442.45 L316.65,442.45 L316.65,444.33 L317.39,444.33 L317.39,445.57 L318.13,445.57 L318.13,446.07 L318.87,446.07 L318.87,447.34 L319.62,447.34 L319.62,448.72 L320.36,448.72 L320.36,450.07 L321.10,450.07 L321.10,450.89 L321.84,450.89 L321.84,452.04 L322.58,452.04 L322.58,452.47 L323.32,452.47 L323.32,454.63 L324.07,454.63 L324.07,454.78 L324.81,454.78 L324.81,455.66 L325.55,455.66 L325.55,457.39 L326.29,457.39 L326.29,457.56 L327.03,457.56 L327.03,458.74 L327.77,458.74 L327.77,459.32 L328.51,459.32 L328.51,460.55 L329.26,460.55 L329.26,461.21 L330.00,461.21 L330.00,461.91 L330.74,461.91 L330.74,462.23 L331.48,462.23 L331.48,463.23 L332.22,463.23 L332.22,463.70 L332.96,463.70 L332.96,463.99 L333.70,463.99 L333.70,464.40 L334.45,464.40 L334.45,464.85 L335.19,464.85 L335.19,464.94 L335.19,466.30 L242.50,466.30 Z" fill="#b0b0b0" stroke="#9a9a9a" stroke-width="0.4"/>
<path d="M264.75,459.94 L265.86,457.66 L266.97,459.22 L268.08,457.16 L269.19,459.15 L270.31,459.02 L271.42,458.17 L272.53,459.08 L273.64,458.42 L274.76,456.50 L275.87,456.63 L276.98,456.76 L278.09,457.25 L279.20,456.24 L280.32,456.06 L281.43,457.23 L282.54,456.58 L283.65,458.69 L284.77,456.35 L285.88,457.19 L286.99,456.09 L288.10,455.82 L289.21,456.49 L290.33,456.79 L291.44,452.84 L292.55,455.36 L293.66,453.38 L294.78,453.32 L295.89,452.93 L297.00,450.36 L298.11,448.62 L299.22,451.34 L300.34,448.86 L301.45,449.92 L302.56,447.96 L303.67,447.92 L304.79,448.17 L305.90,447.38 L307.01,446.35 L308.12,442.24 L309.24,443.35 L310.35,442.48 L311.46,437.07 L312.57,434.47 L313.68,434.87 L314.80,434.16 L315.91,432.35 L317.02,431.28 L318.13,429.96 L319.25,431.73 L320.36,431.61 L321.47,432.11 L322.58,431.22 L323.69,432.06 L324.81,435.04 L325.92,439.34 L327.03,442.25 L328.14,444.43 L329.26,447.39 L330.37,449.84 L331.48,453.00 L332.59,453.17 L333.70,451.50 L334.82,455.87 L335.93,455.01 L337.04,455.16 L338.15,454.46 L339.27,456.01 L340.38,455.03 L341.49,454.34 L342.60,454.61 L343.71,455.33 L344.83,454.43 L345.94,456.26 L347.05,457.64 L348.16,461.25 L349.28,462.00 L350.39,461.18 L351.50,461.68 L352.61,463.29 L353.72,463.67 L354.84,465.10 L355.95,464.98 L357.06,465.02" fill="none" stroke="#000" stroke-width="0.95" stroke-linejoin="round"/>
<path d="M242.50,459.54 L243.24,459.54 L243.24,459.87 L243.98,459.87 L243.98,459.89 L244.72,459.89 L244.72,459.70 L245.47,459.70 L245.47,461.48 L246.21,461.48 L246.21,461.87 L246.95,461.87 L246.95,461.85 L247.69,461.85 L247.69,461.08 L248.43,461.08 L248.43,460.80 L249.17,460.80 L249.17,460.30 L249.91,460.30 L249.91,460.88 L250.66,460.88 L250.66,461.13 L251.40,461.13 L251.40,460.95 L252.14,460.95 L252.14,461.71 L252.88,461.71 L252.88,461.58 L253.62,461.58 L253.62,462.77 L254.36,462.77 L254.36,461.25 L255.11,461.25 L255.11,462.51 L255.85,462.51 L255.85,461.13 L256.59,461.13 L256.59,461.79 L257.33,461.79 L257.33,462.59 L258.07,462.59 L258.07,463.03 L258.81,463.03 L258.81,462.85 L259.55,462.85 L259.55,462.11 L260.30,462.11 L260.30,462.00 L261.04,462.00 L261.04,463.21 L261.78,463.21 L261.78,463.31 L262.52,463.31 L262.52,462.41 L263.26,462.41 L263.26,462.31 L264.00,462.31 L264.00,462.72 L264.75,462.72 L264.75,463.07 L265.49,463.07 L265.49,462.32 L266.23,462.32 L266.23,463.53 L266.97,463.53 L266.97,462.96 L267.71,462.96 L267.71,462.66 L268.45,462.66 L268.45,461.68 L269.19,461.68 L269.19,462.33 L269.94,462.33 L269.94,461.87 L270.68,461.87 L270.68,462.70 L271.42,462.70 L271.42,463.20 L272.16,463.20 L272.16,463.19 L272.90,463.19 L272.90,461.79 L273.64,461.79 L273.64,462.31 L274.38,462.31 L274.38,463.12 L275.13,463.12 L275.13,463.70 L275.87,463.70 L275.87,462.78 L276.61,462.78 L276.61,462.45 L277.35,462.45 L277.35,462.96 L278.09,462.96 L278.09,463.30 L278.83,463.30 L278.83,462.48 L279.58,462.48 L279.58,461.93 L280.32,461.93 L280.32,463.27 L281.06,463.27 L281.06,463.61 L281.80,463.61 L281.80,462.96 L282.54,462.96 L282.54,462.75 L283.28,462.75 L283.28,462.19 L284.02,462.19 L284.02,463.12 L284.77,463.12 L284.77,461.86 L285.51,461.86 L285.51,461.94 L286.25,461.94 L286.25,462.37 L286.99,462.37 L286.99,462.70 L287.73,462.70 L287.73,460.76 L288.47,460.76 L288.47,461.89 L289.21,461.89 L289.21,460.44 L289.96,460.44 L289.96,461.50 L290.70,461.50 L290.70,461.23 L291.44,461.23 L291.44,459.63 L292.18,459.63 L292.18,460.48 L292.92,460.48 L292.92,458.50 L293.66,458.50 L293.66,459.37 L294.41,459.37 L294.41,459.93 L295.15,459.93 L295.15,459.62 L295.89,459.62 L295.89,458.87 L296.63,458.87 L296.63,457.95 L297.37,457.95 L297.37,456.91 L298.11,456.91 L298.11,458.98 L298.85,458.98 L298.85,458.05 L299.60,458.05 L299.60,458.36 L300.34,458.36 L300.34,455.84 L301.08,455.84 L301.08,458.15 L301.82,458.15 L301.82,457.98 L302.56,457.98 L302.56,457.26 L303.30,457.26 L303.30,455.42 L304.04,455.42 L304.04,452.86 L304.79,452.86 L304.79,452.10 L305.53,452.10 L305.53,451.88 L306.27,451.88 L306.27,449.75 L307.01,449.75 L307.01,448.66 L307.75,448.66 L307.75,450.01 L308.49,450.01 L308.49,449.38 L309.24,449.38 L309.24,444.86 L309.98,444.86 L309.98,444.43 L310.72,444.43 L310.72,446.28 L311.46,446.28 L311.46,442.32 L312.20,442.32 L312.20,442.35 L312.94,442.35 L312.94,441.17 L313.68,441.17 L313.68,440.14 L314.43,440.14 L314.43,439.64 L315.17,439.64 L315.17,439.15 L315.91,439.15 L315.91,435.23 L316.65,435.23 L316.65,432.20 L317.39,432.20 L317.39,426.85 L318.13,426.85 L318.13,427.52 L318.87,427.52 L318.87,420.91 L319.62,420.91 L319.62,420.40 L320.36,420.40 L320.36,415.94 L321.10,415.94 L321.10,412.40 L321.84,412.40 L321.84,413.18 L322.58,413.18 L322.58,415.65 L323.32,415.65 L323.32,418.10 L324.07,418.10 L324.07,415.21 L324.81,415.21 L324.81,414.62 L325.55,414.62 L325.55,411.20 L326.29,411.20 L326.29,414.93 L327.03,414.93 L327.03,416.36 L327.77,416.36 L327.77,416.22 L328.51,416.22 L328.51,423.17 L329.26,423.17 L329.26,424.68 L330.00,424.68 L330.00,425.01 L330.74,425.01 L330.74,427.28 L331.48,427.28 L331.48,432.51 L332.22,432.51 L332.22,434.03 L332.96,434.03 L332.96,434.81 L333.70,434.81 L333.70,431.99 L334.45,431.99 L334.45,435.78 L335.19,435.78 L335.19,434.55 L335.93,434.55 L335.93,434.84 L336.67,434.84 L336.67,438.27 L337.41,438.27 L337.41,439.55 L338.15,439.55 L338.15,437.55 L338.90,437.55 L338.90,440.03 L339.64,440.03 L339.64,442.56 L340.38,442.56 L340.38,440.58 L341.12,440.58 L341.12,442.32 L341.86,442.32 L341.86,442.50 L342.60,442.50 L342.60,443.68 L343.34,443.68 L343.34,440.41 L344.09,440.41 L344.09,440.54 L344.83,440.54 L344.83,442.59 L345.57,442.59 L345.57,442.07 L346.31,442.07 L346.31,446.89 L347.05,446.89 L347.05,446.80 L347.79,446.80 L347.79,446.54 L348.53,446.54 L348.53,445.20 L349.28,445.20 L349.28,445.97 L350.02,445.97 L350.02,449.20 L350.76,449.20 L350.76,450.54 L351.50,450.54 L351.50,450.52 L352.24,450.52 L352.24,451.28 L352.98,451.28 L352.98,450.89 L353.73,450.89 L353.73,455.05 L354.47,455.05 L354.47,454.17 L355.21,454.17 L355.21,455.77 L355.95,455.77 L355.95,456.90 L356.69,456.90 L356.69,457.93 L357.43,457.93 L357.43,459.23 L358.17,459.23 L358.17,460.76 L358.92,460.76 L358.92,461.58 L359.66,461.58 L359.66,462.29 L360.40,462.29 L360.40,462.28 L361.14,462.28 L361.14,463.90 L361.88,463.90 L361.88,463.91 L362.62,463.91 L362.62,463.15 L363.36,463.15 L363.36,464.31 L364.11,464.31 L364.11,464.87 L364.85,464.87 L364.85,465.10 L365.59,465.10 L365.59,464.56 L366.33,464.56 L366.33,464.98 L367.07,464.98 L367.07,463.98 L367.81,463.98 L367.81,464.19 L368.56,464.19 L368.56,464.85 L369.30,464.85 L369.30,464.90 L370.04,464.90 L370.04,464.95 L370.78,464.95 L370.78,465.00 L371.52,465.00 L371.52,465.05 L372.26,465.05 L372.26,465.10 L373.00,465.10 L373.00,465.10 L373.75,465.10 L373.75,465.10 L374.49,465.10 L374.49,465.10 L375.23,465.10 L375.23,465.10 L375.97,465.10 L375.97,465.10 L376.71,465.10 L376.71,465.10 L377.45,465.10 L377.45,465.10 L378.19,465.10 L378.19,465.10 L378.94,465.10 L378.94,465.10 L379.68,465.10 L379.68,465.10 L380.42,465.10 L380.42,465.10 L381.16,465.10 L381.16,465.10 L381.90,465.10 L381.90,465.10 L382.64,465.10 L382.64,465.10 L383.39,465.10 L383.39,465.10 L384.13,465.10 L384.13,465.10 L384.87,465.10 L384.87,465.10 L385.61,465.10 L385.61,465.10 L386.35,465.10 L386.35,465.10 L387.09,465.10 L387.09,465.10 L387.83,465.10 L387.83,465.10 L388.58,465.10 L388.58,465.10 L389.32,465.10 L389.32,465.10 L390.06,465.10 L390.06,465.10 L390.80,465.10 L390.80,465.10" fill="none" stroke="#000" stroke-width="2.5" stroke-linejoin="round"/>
<line x1="242.50" y1="345.70" x2="390.80" y2="345.70" stroke="#222" stroke-width="1.3" />
<line x1="390.80" y1="345.70" x2="390.80" y2="466.30" stroke="#444" stroke-width="1.3" />
<line x1="242.50" y1="345.10" x2="242.50" y2="467.80" stroke="#000" stroke-width="2.7" />
<line x1="241.20" y1="466.30" x2="390.80" y2="466.30" stroke="#000" stroke-width="2.0" />
<line x1="238.30" y1="465.00" x2="242.50" y2="465.00" stroke="#000" stroke-width="1.0" />
<line x1="239.70" y1="461.32" x2="242.50" y2="461.32" stroke="#000" stroke-width="1.0" />
<line x1="239.70" y1="457.64" x2="242.50" y2="457.64" stroke="#000" stroke-width="1.0" />
<line x1="239.70" y1="453.96" x2="242.50" y2="453.96" stroke="#000" stroke-width="1.0" />
<line x1="239.70" y1="450.28" x2="242.50" y2="450.28" stroke="#000" stroke-width="1.0" />
<line x1="238.30" y1="446.60" x2="242.50" y2="446.60" stroke="#000" stroke-width="1.0" />
<line x1="239.70" y1="442.92" x2="242.50" y2="442.92" stroke="#000" stroke-width="1.0" />
<line x1="239.70" y1="439.24" x2="242.50" y2="439.24" stroke="#000" stroke-width="1.0" />
<line x1="239.70" y1="435.56" x2="242.50" y2="435.56" stroke="#000" stroke-width="1.0" />
<line x1="239.70" y1="431.88" x2="242.50" y2="431.88" stroke="#000" stroke-width="1.0" />
<line x1="238.30" y1="428.20" x2="242.50" y2="428.20" stroke="#000" stroke-width="1.0" />
<line x1="239.70" y1="424.52" x2="242.50" y2="424.52" stroke="#000" stroke-width="1.0" />
<line x1="239.70" y1="420.84" x2="242.50" y2="420.84" stroke="#000" stroke-width="1.0" />
<line x1="239.70" y1="417.16" x2="242.50" y2="417.16" stroke="#000" stroke-width="1.0" />
<line x1="239.70" y1="413.48" x2="242.50" y2="413.48" stroke="#000" stroke-width="1.0" />
<line x1="238.30" y1="409.80" x2="242.50" y2="409.80" stroke="#000" stroke-width="1.0" />
<line x1="239.70" y1="406.12" x2="242.50" y2="406.12" stroke="#000" stroke-width="1.0" />
<line x1="239.70" y1="402.44" x2="242.50" y2="402.44" stroke="#000" stroke-width="1.0" />
<line x1="239.70" y1="398.76" x2="242.50" y2="398.76" stroke="#000" stroke-width="1.0" />
<line x1="239.70" y1="395.08" x2="242.50" y2="395.08" stroke="#000" stroke-width="1.0" />
<line x1="238.30" y1="391.40" x2="242.50" y2="391.40" stroke="#000" stroke-width="1.0" />
<line x1="239.70" y1="387.72" x2="242.50" y2="387.72" stroke="#000" stroke-width="1.0" />
<line x1="239.70" y1="384.04" x2="242.50" y2="384.04" stroke="#000" stroke-width="1.0" />
<line x1="239.70" y1="380.36" x2="242.50" y2="380.36" stroke="#000" stroke-width="1.0" />
<line x1="239.70" y1="376.68" x2="242.50" y2="376.68" stroke="#000" stroke-width="1.0" />
<line x1="238.30" y1="373.00" x2="242.50" y2="373.00" stroke="#000" stroke-width="1.0" />
<line x1="239.70" y1="369.32" x2="242.50" y2="369.32" stroke="#000" stroke-width="1.0" />
<line x1="239.70" y1="365.64" x2="242.50" y2="365.64" stroke="#000" stroke-width="1.0" />
<line x1="239.70" y1="361.96" x2="242.50" y2="361.96" stroke="#000" stroke-width="1.0" />
<line x1="239.70" y1="358.28" x2="242.50" y2="358.28" stroke="#000" stroke-width="1.0" />
<line x1="238.30" y1="354.60" x2="242.50" y2="354.60" stroke="#000" stroke-width="1.0" />
<line x1="239.70" y1="350.92" x2="242.50" y2="350.92" stroke="#000" stroke-width="1.0" />
<line x1="239.70" y1="347.24" x2="242.50" y2="347.24" stroke="#000" stroke-width="1.0" />
<text x="-465.80" y="233.80" font-family="Liberation Sans" font-size="8.8" font-weight="normal" fill="#000" textLength="5.62" lengthAdjust="spacingAndGlyphs" transform="rotate(-90)">0</text>
<text x="-449.98" y="233.80" font-family="Liberation Sans" font-size="8.8" font-weight="normal" fill="#000" textLength="10.64" lengthAdjust="spacingAndGlyphs" transform="rotate(-90)">20</text>
<text x="-431.29" y="233.80" font-family="Liberation Sans" font-size="8.8" font-weight="normal" fill="#000" textLength="10.33" lengthAdjust="spacingAndGlyphs" transform="rotate(-90)">40</text>
<text x="-413.18" y="233.80" font-family="Liberation Sans" font-size="8.8" font-weight="normal" fill="#000" textLength="10.64" lengthAdjust="spacingAndGlyphs" transform="rotate(-90)">60</text>
<text x="-394.68" y="233.80" font-family="Liberation Sans" font-size="8.8" font-weight="normal" fill="#000" textLength="10.53" lengthAdjust="spacingAndGlyphs" transform="rotate(-90)">80</text>
<text x="-379.06" y="233.80" font-family="Liberation Sans" font-size="8.8" font-weight="normal" fill="#000" textLength="15.77" lengthAdjust="spacingAndGlyphs" transform="rotate(-90)">100</text>
<text x="-360.66" y="233.80" font-family="Liberation Sans" font-size="8.8" font-weight="normal" fill="#000" textLength="15.77" lengthAdjust="spacingAndGlyphs" transform="rotate(-90)">120</text>
<line x1="242.50" y1="466.30" x2="242.50" y2="470.30" stroke="#000" stroke-width="0.9" />
<line x1="253.66" y1="466.30" x2="253.66" y2="468.90" stroke="#000" stroke-width="0.9" />
<line x1="260.19" y1="466.30" x2="260.19" y2="468.90" stroke="#000" stroke-width="0.9" />
<line x1="264.82" y1="466.30" x2="264.82" y2="468.90" stroke="#000" stroke-width="0.9" />
<line x1="268.41" y1="466.30" x2="268.41" y2="468.90" stroke="#000" stroke-width="0.9" />
<line x1="271.35" y1="466.30" x2="271.35" y2="468.90" stroke="#000" stroke-width="0.9" />
<line x1="273.83" y1="466.30" x2="273.83" y2="468.90" stroke="#000" stroke-width="0.9" />
<line x1="275.98" y1="466.30" x2="275.98" y2="468.90" stroke="#000" stroke-width="0.9" />
<line x1="277.88" y1="466.30" x2="277.88" y2="468.90" stroke="#000" stroke-width="0.9" />
<line x1="279.57" y1="466.30" x2="279.57" y2="470.30" stroke="#000" stroke-width="0.9" />
<line x1="290.74" y1="466.30" x2="290.74" y2="468.90" stroke="#000" stroke-width="0.9" />
<line x1="297.26" y1="466.30" x2="297.26" y2="468.90" stroke="#000" stroke-width="0.9" />
<line x1="301.90" y1="466.30" x2="301.90" y2="468.90" stroke="#000" stroke-width="0.9" />
<line x1="305.49" y1="466.30" x2="305.49" y2="468.90" stroke="#000" stroke-width="0.9" />
<line x1="308.42" y1="466.30" x2="308.42" y2="468.90" stroke="#000" stroke-width="0.9" />
<line x1="310.91" y1="466.30" x2="310.91" y2="468.90" stroke="#000" stroke-width="0.9" />
<line x1="313.06" y1="466.30" x2="313.06" y2="468.90" stroke="#000" stroke-width="0.9" />
<line x1="314.95" y1="466.30" x2="314.95" y2="468.90" stroke="#000" stroke-width="0.9" />
<line x1="316.65" y1="466.30" x2="316.65" y2="470.30" stroke="#000" stroke-width="0.9" />
<line x1="327.81" y1="466.30" x2="327.81" y2="468.90" stroke="#000" stroke-width="0.9" />
<line x1="334.34" y1="466.30" x2="334.34" y2="468.90" stroke="#000" stroke-width="0.9" />
<line x1="338.97" y1="466.30" x2="338.97" y2="468.90" stroke="#000" stroke-width="0.9" />
<line x1="342.56" y1="466.30" x2="342.56" y2="468.90" stroke="#000" stroke-width="0.9" />
<line x1="345.50" y1="466.30" x2="345.50" y2="468.90" stroke="#000" stroke-width="0.9" />
<line x1="347.98" y1="466.30" x2="347.98" y2="468.90" stroke="#000" stroke-width="0.9" />
<line x1="350.13" y1="466.30" x2="350.13" y2="468.90" stroke="#000" stroke-width="0.9" />
<line x1="352.03" y1="466.30" x2="352.03" y2="468.90" stroke="#000" stroke-width="0.9" />
<line x1="353.73" y1="466.30" x2="353.73" y2="470.30" stroke="#000" stroke-width="0.9" />
<line x1="364.89" y1="466.30" x2="364.89" y2="468.90" stroke="#000" stroke-width="0.9" />
<line x1="371.41" y1="466.30" x2="371.41" y2="468.90" stroke="#000" stroke-width="0.9" />
<line x1="376.05" y1="466.30" x2="376.05" y2="468.90" stroke="#000" stroke-width="0.9" />
<line x1="379.64" y1="466.30" x2="379.64" y2="468.90" stroke="#000" stroke-width="0.9" />
<line x1="382.57" y1="466.30" x2="382.57" y2="468.90" stroke="#000" stroke-width="0.9" />
<line x1="385.06" y1="466.30" x2="385.06" y2="468.90" stroke="#000" stroke-width="0.9" />
<line x1="387.21" y1="466.30" x2="387.21" y2="468.90" stroke="#000" stroke-width="0.9" />
<line x1="389.10" y1="466.30" x2="389.10" y2="468.90" stroke="#000" stroke-width="0.9" />
<line x1="390.80" y1="466.30" x2="390.80" y2="470.30" stroke="#000" stroke-width="0.9" />
<text x="234.33" y="480.71" font-family="Liberation Sans" font-size="8.73" font-weight="normal" fill="#000" >10</text>
<text x="244.57" y="475.53" font-family="Liberation Sans" font-size="6.62" font-weight="normal" fill="#000" textLength="5.28" lengthAdjust="spacingAndGlyphs" >0</text>
<text x="271.41" y="480.71" font-family="Liberation Sans" font-size="8.73" font-weight="normal" fill="#000" >10</text>
<text x="281.18" y="475.60" font-family="Liberation Sans" font-size="6.81" font-weight="normal" fill="#000" textLength="5.88" lengthAdjust="spacingAndGlyphs" >1</text>
<text x="308.48" y="480.71" font-family="Liberation Sans" font-size="8.73" font-weight="normal" fill="#000" >10</text>
<text x="318.55" y="475.60" font-family="Liberation Sans" font-size="6.71" font-weight="normal" fill="#000" textLength="5.56" lengthAdjust="spacingAndGlyphs" >2</text>
<text x="345.56" y="480.71" font-family="Liberation Sans" font-size="8.73" font-weight="normal" fill="#000" >10</text>
<text x="355.79" y="475.53" font-family="Liberation Sans" font-size="6.62" font-weight="normal" fill="#000" textLength="5.33" lengthAdjust="spacingAndGlyphs" >3</text>
<text x="382.63" y="480.71" font-family="Liberation Sans" font-size="8.73" font-weight="normal" fill="#000" >10</text>
<text x="393.02" y="475.60" font-family="Liberation Sans" font-size="6.81" font-weight="normal" fill="#000" textLength="5.02" lengthAdjust="spacingAndGlyphs" >4</text>
<text x="302.71" y="489.90" font-family="Liberation Sans" font-size="8.55" font-weight="normal" fill="#000" textLength="25.77" lengthAdjust="spacingAndGlyphs" >FL1-H</text>
<text x="-419.54" y="223.70" font-family="Liberation Sans" font-size="10.42" font-weight="normal" fill="#000" textLength="27.73" lengthAdjust="spacingAndGlyphs" transform="rotate(-90)">Counts</text>
<text x="251.76" y="362.30" font-family="Liberation Sans" font-size="19.03" font-weight="bold" fill="#000" stroke="#000" stroke-width="0.5">iii</text>
<text x="302.34" y="364.60" font-family="Liberation Sans" font-size="13.79" font-weight="bold" fill="#000" textLength="69.57" lengthAdjust="spacingAndGlyphs" >Akt-1 (+/+)</text>
<text x="253.88" y="407.53" font-family="Liberation Serif" font-size="11.11" font-weight="normal" fill="#000" textLength="38.57" lengthAdjust="spacingAndGlyphs" >MFI:95</text>
<text x="253.87" y="419.68" font-family="Liberation Serif" font-size="12.06" font-weight="normal" fill="#000" textLength="54.46" lengthAdjust="spacingAndGlyphs" >LY+throm</text>
<text x="321.98" y="393.72" font-family="Liberation Serif" font-size="12.3" font-weight="normal" fill="#000" textLength="45.28" lengthAdjust="spacingAndGlyphs" >MFI:245</text>
<text x="326.13" y="403.87" font-family="Liberation Serif" font-size="12.62" font-weight="normal" fill="#000" textLength="32.96" lengthAdjust="spacingAndGlyphs" >throm</text>
<text x="254.62" y="441.27" font-family="Liberation Serif" font-size="12.84" font-weight="bold" fill="#777" textLength="30.18" lengthAdjust="spacingAndGlyphs" >PGE1</text>
</g>
<g>
<path d="M27.70,611.42 L29.04,615.04 L30.38,615.89 L31.73,615.75 L33.07,613.58 L34.41,612.38 L35.75,613.67 L37.10,614.71 L38.44,613.66 L39.78,612.49 L41.12,612.11 L42.46,611.29 L43.81,610.17 L45.15,610.65 L46.49,613.32 L47.83,608.47 L49.18,611.31 L50.52,609.07 L51.86,610.24 L53.20,607.90 L54.55,611.35 L55.89,611.04 L57.23,611.06 L58.57,611.64 L59.91,606.96 L61.26,608.92 L62.60,610.54 L63.94,610.09 L65.28,605.91 L66.63,608.49 L67.97,609.71 L69.31,605.41 L70.65,605.84 L71.99,603.09 L73.34,608.57 L74.68,605.94 L76.02,603.50 L77.36,603.14 L78.71,602.44 L80.05,607.75 L81.39,605.01 L82.73,605.04 L84.07,603.48 L85.42,597.31 L86.76,598.73 L88.10,595.27 L89.44,597.50 L90.79,592.93 L92.13,594.25 L93.47,594.10 L94.81,591.00 L96.15,590.44 L97.50,596.40 L98.84,592.85 L100.18,591.13 L101.52,595.53 L102.87,597.69 L104.21,605.45 L105.55,611.32 L106.89,616.84 L108.23,620.80 L108.23,625.00 L27.70,625.00 Z" fill="#cccccc" stroke="#555" stroke-width="0.8" stroke-linejoin="round"/>
<path d="M27.70,621.00 L28.47,621.00 L28.47,621.29 L29.23,621.29 L29.23,621.40 L30.00,621.40 L30.00,621.17 L30.77,621.17 L30.77,620.91 L31.54,620.91 L31.54,621.23 L32.30,621.23 L32.30,621.12 L33.07,621.12 L33.07,621.18 L33.84,621.18 L33.84,620.76 L34.60,620.76 L34.60,620.91 L35.37,620.91 L35.37,621.22 L36.14,621.22 L36.14,621.18 L36.90,621.18 L36.90,620.96 L37.67,620.96 L37.67,620.84 L38.44,620.84 L38.44,620.76 L39.20,620.76 L39.20,621.12 L39.97,621.12 L39.97,621.05 L40.74,621.05 L40.74,620.66 L41.51,620.66 L41.51,620.84 L42.27,620.84 L42.27,620.91 L43.04,620.91 L43.04,620.88 L43.81,620.88 L43.81,620.41 L44.57,620.41 L44.57,620.84 L45.34,620.84 L45.34,620.64 L46.11,620.64 L46.11,620.77 L46.88,620.77 L46.88,620.71 L47.64,620.71 L47.64,620.38 L48.41,620.38 L48.41,620.27 L49.18,620.27 L49.18,620.70 L49.94,620.70 L49.94,620.80 L50.71,620.80 L50.71,620.40 L51.48,620.40 L51.48,620.76 L52.24,620.76 L52.24,620.88 L53.01,620.88 L53.01,620.22 L53.78,620.22 L53.78,620.55 L54.55,620.55 L54.55,620.25 L55.31,620.25 L55.31,620.52 L56.08,620.52 L56.08,620.16 L56.85,620.16 L56.85,620.45 L57.61,620.45 L57.61,620.65 L58.38,620.65 L58.38,620.74 L59.15,620.74 L59.15,620.33 L59.91,620.33 L59.91,620.25 L60.68,620.25 L60.68,620.03 L61.45,620.03 L61.45,620.61 L62.22,620.61 L62.22,620.21 L62.98,620.21 L62.98,620.37 L63.75,620.37 L63.75,620.26 L64.52,620.26 L64.52,620.50 L65.28,620.50 L65.28,620.38 L66.05,620.38 L66.05,620.19 L66.82,620.19 L66.82,619.51 L67.58,619.51 L67.58,619.77 L68.35,619.77 L68.35,619.10 L69.12,619.10 L69.12,618.47 L69.89,618.47 L69.89,617.95 L70.65,617.95 L70.65,618.24 L71.42,618.24 L71.42,617.94 L72.19,617.94 L72.19,616.82 L72.95,616.82 L72.95,616.41 L73.72,616.41 L73.72,616.50 L74.49,616.50 L74.49,616.56 L75.25,616.56 L75.25,615.31 L76.02,615.31 L76.02,615.49 L76.79,615.49 L76.79,614.57 L77.56,614.57 L77.56,614.45 L78.32,614.45 L78.32,613.75 L79.09,613.75 L79.09,614.03 L79.86,614.03 L79.86,612.84 L80.62,612.84 L80.62,613.04 L81.39,613.04 L81.39,612.36 L82.16,612.36 L82.16,611.33 L82.92,611.33 L82.92,610.87 L83.69,610.87 L83.69,611.25 L84.46,611.25 L84.46,610.75 L85.23,610.75 L85.23,610.03 L85.99,610.03 L85.99,609.40 L86.76,609.40 L86.76,608.96 L87.53,608.96 L87.53,608.71 L88.29,608.71 L88.29,607.90 L89.06,607.90 L89.06,606.58 L89.83,606.58 L89.83,605.71 L90.59,605.71 L90.59,606.31 L91.36,606.31 L91.36,604.93 L92.13,604.93 L92.13,604.02 L92.90,604.02 L92.90,604.43 L93.66,604.43 L93.66,602.65 L94.43,602.65 L94.43,603.06 L95.20,603.06 L95.20,601.87 L95.96,601.87 L95.96,601.46 L96.73,601.46 L96.73,600.86 L97.50,600.86 L97.50,601.51 L98.26,601.51 L98.26,602.21 L99.03,602.21 L99.03,602.84 L99.80,602.84 L99.80,603.93 L100.57,603.93 L100.57,604.46 L101.33,604.46 L101.33,605.63 L102.10,605.63 L102.10,606.51 L102.87,606.51 L102.87,607.97 L103.63,607.97 L103.63,607.95 L104.40,607.95 L104.40,608.93 L105.17,608.93 L105.17,610.09 L105.93,610.09 L105.93,610.17 L106.70,610.17 L106.70,610.96 L107.47,610.96 L107.47,612.18 L108.24,612.18 L108.24,613.31 L109.00,613.31 L109.00,613.43 L109.77,613.43 L109.77,614.33 L110.54,614.33 L110.54,614.76 L111.30,614.76 L111.30,614.90 L112.07,614.90 L112.07,615.73 L112.84,615.73 L112.84,615.84 L113.60,615.84 L113.60,616.24 L114.37,616.24 L114.37,617.19 L115.14,617.19 L115.14,617.13 L115.91,617.13 L115.91,618.13 L116.67,618.13 L116.67,618.05 L117.44,618.05 L117.44,618.53 L118.21,618.53 L118.21,619.25 L118.97,619.25 L118.97,620.10 L119.74,620.10 L119.74,620.04 L120.51,620.04 L120.51,620.42 L121.27,620.42 L121.27,620.31 L122.04,620.31 L122.04,621.17 L122.81,621.17 L122.81,620.97 L123.58,620.97 L123.58,621.17 L124.34,621.17 L124.34,621.64 L125.11,621.64 L125.11,621.88 L125.88,621.88 L125.88,622.54 L126.64,622.54 L126.64,622.24 L127.41,622.24 L127.41,622.69 L128.18,622.69 L128.18,622.58 L128.94,622.58 L128.94,622.77 L129.71,622.77 L129.71,623.34 L130.48,623.34 L130.48,623.17 L131.25,623.17 L131.25,623.26 L132.01,623.26 L132.01,623.64 L132.78,623.64 L132.78,623.80 L132.78,625.00 L27.70,625.00 Z" fill="#b0b0b0" stroke="#9a9a9a" stroke-width="0.4"/>
<path d="M96.73,596.18 L97.88,594.34 L99.03,591.94 L100.18,594.23 L101.33,590.28 L102.48,592.67 L103.63,591.01 L104.78,595.69 L105.93,595.40 L107.08,594.52 L108.23,598.93 L109.39,599.20 L110.54,597.50 L111.69,597.80 L112.84,598.77 L113.99,598.18 L115.14,598.37 L116.29,595.52 L117.44,598.88 L118.59,600.03 L119.74,607.16 L120.89,608.02 L122.04,613.33 L123.19,613.32 L124.34,614.68 L125.49,616.58 L126.64,615.59 L127.79,617.21 L128.94,617.77 L130.09,617.63 L131.24,620.44 L132.40,619.03 L133.55,620.69 L134.70,621.96 L135.85,621.77 L137.00,623.28 L138.15,622.51 L139.30,623.62 L140.45,623.76" fill="none" stroke="#000" stroke-width="0.95" stroke-linejoin="round"/>
<path d="M27.70,615.93 L28.47,615.93 L28.47,616.65 L29.23,616.65 L29.23,615.53 L30.00,615.53 L30.00,616.56 L30.77,616.56 L30.77,617.41 L31.54,617.41 L31.54,615.83 L32.30,615.83 L32.30,617.92 L33.07,617.92 L33.07,615.77 L33.84,615.77 L33.84,617.47 L34.60,617.47 L34.60,616.44 L35.37,616.44 L35.37,615.54 L36.14,615.54 L36.14,616.74 L36.90,616.74 L36.90,616.60 L37.67,616.60 L37.67,617.66 L38.44,617.66 L38.44,618.59 L39.20,618.59 L39.20,618.57 L39.97,618.57 L39.97,618.32 L40.74,618.32 L40.74,617.12 L41.51,617.12 L41.51,617.69 L42.27,617.69 L42.27,617.43 L43.04,617.43 L43.04,616.34 L43.81,616.34 L43.81,618.39 L44.57,618.39 L44.57,618.08 L45.34,618.08 L45.34,616.86 L46.11,616.86 L46.11,618.56 L46.88,618.56 L46.88,618.58 L47.64,618.58 L47.64,617.56 L48.41,617.56 L48.41,618.21 L49.18,618.21 L49.18,617.46 L49.94,617.46 L49.94,617.79 L50.71,617.79 L50.71,616.74 L51.48,616.74 L51.48,616.67 L52.24,616.67 L52.24,617.72 L53.01,617.72 L53.01,616.48 L53.78,616.48 L53.78,616.86 L54.55,616.86 L54.55,617.79 L55.31,617.79 L55.31,615.45 L56.08,615.45 L56.08,617.40 L56.85,617.40 L56.85,617.63 L57.61,617.63 L57.61,617.72 L58.38,617.72 L58.38,616.07 L59.15,616.07 L59.15,615.32 L59.91,615.32 L59.91,615.51 L60.68,615.51 L60.68,616.56 L61.45,616.56 L61.45,616.91 L62.22,616.91 L62.22,617.60 L62.98,617.60 L62.98,615.64 L63.75,615.64 L63.75,615.82 L64.52,615.82 L64.52,616.39 L65.28,616.39 L65.28,615.43 L66.05,615.43 L66.05,615.97 L66.82,615.97 L66.82,614.40 L67.58,614.40 L67.58,614.95 L68.35,614.95 L68.35,616.38 L69.12,616.38 L69.12,614.28 L69.89,614.28 L69.89,616.88 L70.65,616.88 L70.65,615.30 L71.42,615.30 L71.42,615.63 L72.19,615.63 L72.19,616.09 L72.95,616.09 L72.95,616.45 L73.72,616.45 L73.72,613.91 L74.49,613.91 L74.49,616.19 L75.25,616.19 L75.25,614.20 L76.02,614.20 L76.02,612.66 L76.79,612.66 L76.79,615.14 L77.56,615.14 L77.56,614.73 L78.32,614.73 L78.32,613.09 L79.09,613.09 L79.09,613.22 L79.86,613.22 L79.86,612.51 L80.62,612.51 L80.62,611.47 L81.39,611.47 L81.39,613.42 L82.16,613.42 L82.16,612.53 L82.92,612.53 L82.92,612.18 L83.69,612.18 L83.69,612.79 L84.46,612.79 L84.46,609.02 L85.23,609.02 L85.23,609.02 L85.99,609.02 L85.99,608.88 L86.76,608.88 L86.76,611.49 L87.53,611.49 L87.53,607.49 L88.29,607.49 L88.29,606.72 L89.06,606.72 L89.06,606.73 L89.83,606.73 L89.83,604.34 L90.59,604.34 L90.59,605.05 L91.36,605.05 L91.36,605.48 L92.13,605.48 L92.13,605.47 L92.90,605.47 L92.90,604.38 L93.66,604.38 L93.66,604.67 L94.43,604.67 L94.43,602.14 L95.20,602.14 L95.20,599.09 L95.96,599.09 L95.96,598.08 L96.73,598.08 L96.73,596.19 L97.50,596.19 L97.50,595.52 L98.26,595.52 L98.26,596.20 L99.03,596.20 L99.03,593.71 L99.80,593.71 L99.80,592.97 L100.57,592.97 L100.57,590.21 L101.33,590.21 L101.33,590.29 L102.10,590.29 L102.10,590.34 L102.87,590.34 L102.87,587.65 L103.63,587.65 L103.63,585.19 L104.40,585.19 L104.40,587.35 L105.17,587.35 L105.17,583.43 L105.93,583.43 L105.93,586.05 L106.70,586.05 L106.70,583.83 L107.47,583.83 L107.47,582.78 L108.24,582.78 L108.24,579.43 L109.00,579.43 L109.00,577.41 L109.77,577.41 L109.77,577.62 L110.54,577.62 L110.54,578.78 L111.30,578.78 L111.30,576.79 L112.07,576.79 L112.07,580.60 L112.84,580.60 L112.84,582.43 L113.60,582.43 L113.60,581.10 L114.37,581.10 L114.37,583.96 L115.14,583.96 L115.14,585.36 L115.91,585.36 L115.91,587.15 L116.67,587.15 L116.67,587.85 L117.44,587.85 L117.44,592.10 L118.21,592.10 L118.21,592.56 L118.97,592.56 L118.97,595.17 L119.74,595.17 L119.74,596.43 L120.51,596.43 L120.51,600.20 L121.27,600.20 L121.27,600.91 L122.04,600.91 L122.04,603.11 L122.81,603.11 L122.81,605.78 L123.58,605.78 L123.58,607.73 L124.34,607.73 L124.34,607.50 L125.11,607.50 L125.11,611.36 L125.88,611.36 L125.88,609.48 L126.64,609.48 L126.64,613.94 L127.41,613.94 L127.41,615.76 L128.18,615.76 L128.18,616.92 L128.94,616.92 L128.94,615.11 L129.71,615.11 L129.71,617.46 L130.48,617.46 L130.48,618.64 L131.25,618.64 L131.25,619.53 L132.01,619.53 L132.01,620.10 L132.78,620.10 L132.78,618.92 L133.55,618.92 L133.55,619.19 L134.31,619.19 L134.31,619.18 L135.08,619.18 L135.08,619.22 L135.85,619.22 L135.85,620.88 L136.61,620.88 L136.61,619.82 L137.38,619.82 L137.38,620.68 L138.15,620.68 L138.15,620.08 L138.92,620.08 L138.92,620.46 L139.68,620.46 L139.68,620.70 L140.45,620.70 L140.45,622.64 L141.22,622.64 L141.22,621.46 L141.98,621.46 L141.98,621.65 L142.75,621.65 L142.75,621.87 L143.52,621.87 L143.52,623.56 L144.28,623.56 L144.28,623.63 L145.05,623.63 L145.05,623.80 L145.82,623.80 L145.82,623.55 L146.59,623.55 L146.59,623.59 L147.35,623.59 L147.35,623.63 L148.12,623.63 L148.12,623.68 L148.89,623.68 L148.89,623.72 L149.65,623.72 L149.65,623.76 L150.42,623.76 L150.42,623.80 L151.19,623.80 L151.19,623.80 L151.95,623.80 L151.95,623.80 L152.72,623.80 L152.72,623.80 L153.49,623.80 L153.49,623.80 L154.26,623.80 L154.26,623.80 L155.02,623.80 L155.02,623.80 L155.79,623.80 L155.79,623.80 L156.56,623.80 L156.56,623.80 L157.32,623.80 L157.32,623.80 L158.09,623.80 L158.09,623.80 L158.86,623.80 L158.86,623.80 L159.62,623.80 L159.62,623.80 L160.39,623.80 L160.39,623.80 L161.16,623.80 L161.16,623.80 L161.93,623.80 L161.93,623.80 L162.69,623.80 L162.69,623.80 L163.46,623.80 L163.46,623.80 L164.23,623.80 L164.23,623.80 L164.99,623.80 L164.99,623.80 L165.76,623.80 L165.76,623.80 L166.53,623.80 L166.53,623.80 L167.29,623.80 L167.29,623.80 L168.06,623.80 L168.06,623.80 L168.83,623.80 L168.83,623.80 L169.60,623.80 L169.60,623.80 L170.36,623.80 L170.36,623.80 L171.13,623.80 L171.13,623.80 L171.90,623.80 L171.90,623.80 L172.66,623.80 L172.66,623.80 L173.43,623.80 L173.43,623.80 L174.20,623.80 L174.20,623.80 L174.96,623.80 L174.96,623.80 L175.73,623.80 L175.73,623.80 L176.50,623.80 L176.50,623.80 L177.27,623.80 L177.27,623.80 L178.03,623.80 L178.03,623.80 L178.80,623.80 L178.80,623.80 L179.57,623.80 L179.57,623.80 L180.33,623.80 L180.33,623.80 L181.10,623.80 L181.10,623.80" fill="none" stroke="#000" stroke-width="2.5" stroke-linejoin="round"/>
<line x1="27.70" y1="505.50" x2="181.10" y2="505.50" stroke="#222" stroke-width="1.3" />
<line x1="181.10" y1="505.50" x2="181.10" y2="625.00" stroke="#444" stroke-width="1.3" />
<line x1="27.70" y1="504.90" x2="27.70" y2="626.50" stroke="#000" stroke-width="2.7" />
<line x1="26.40" y1="625.00" x2="181.10" y2="625.00" stroke="#000" stroke-width="2.0" />
<line x1="23.50" y1="625.00" x2="27.70" y2="625.00" stroke="#000" stroke-width="1.0" />
<line x1="24.90" y1="621.31" x2="27.70" y2="621.31" stroke="#000" stroke-width="1.0" />
<line x1="24.90" y1="617.62" x2="27.70" y2="617.62" stroke="#000" stroke-width="1.0" />
<line x1="24.90" y1="613.92" x2="27.70" y2="613.92" stroke="#000" stroke-width="1.0" />
<line x1="24.90" y1="610.23" x2="27.70" y2="610.23" stroke="#000" stroke-width="1.0" />
<line x1="23.50" y1="606.54" x2="27.70" y2="606.54" stroke="#000" stroke-width="1.0" />
<line x1="24.90" y1="602.85" x2="27.70" y2="602.85" stroke="#000" stroke-width="1.0" />
<line x1="24.90" y1="599.16" x2="27.70" y2="599.16" stroke="#000" stroke-width="1.0" />
<line x1="24.90" y1="595.46" x2="27.70" y2="595.46" stroke="#000" stroke-width="1.0" />
<line x1="24.90" y1="591.77" x2="27.70" y2="591.77" stroke="#000" stroke-width="1.0" />
<line x1="23.50" y1="588.08" x2="27.70" y2="588.08" stroke="#000" stroke-width="1.0" />
<line x1="24.90" y1="584.39" x2="27.70" y2="584.39" stroke="#000" stroke-width="1.0" />
<line x1="24.90" y1="580.70" x2="27.70" y2="580.70" stroke="#000" stroke-width="1.0" />
<line x1="24.90" y1="577.00" x2="27.70" y2="577.00" stroke="#000" stroke-width="1.0" />
<line x1="24.90" y1="573.31" x2="27.70" y2="573.31" stroke="#000" stroke-width="1.0" />
<line x1="23.50" y1="569.62" x2="27.70" y2="569.62" stroke="#000" stroke-width="1.0" />
<line x1="24.90" y1="565.93" x2="27.70" y2="565.93" stroke="#000" stroke-width="1.0" />
<line x1="24.90" y1="562.24" x2="27.70" y2="562.24" stroke="#000" stroke-width="1.0" />
<line x1="24.90" y1="558.54" x2="27.70" y2="558.54" stroke="#000" stroke-width="1.0" />
<line x1="24.90" y1="554.85" x2="27.70" y2="554.85" stroke="#000" stroke-width="1.0" />
<line x1="23.50" y1="551.16" x2="27.70" y2="551.16" stroke="#000" stroke-width="1.0" />
<line x1="24.90" y1="547.47" x2="27.70" y2="547.47" stroke="#000" stroke-width="1.0" />
<line x1="24.90" y1="543.78" x2="27.70" y2="543.78" stroke="#000" stroke-width="1.0" />
<line x1="24.90" y1="540.08" x2="27.70" y2="540.08" stroke="#000" stroke-width="1.0" />
<line x1="24.90" y1="536.39" x2="27.70" y2="536.39" stroke="#000" stroke-width="1.0" />
<line x1="23.50" y1="532.70" x2="27.70" y2="532.70" stroke="#000" stroke-width="1.0" />
<line x1="24.90" y1="529.01" x2="27.70" y2="529.01" stroke="#000" stroke-width="1.0" />
<line x1="24.90" y1="525.32" x2="27.70" y2="525.32" stroke="#000" stroke-width="1.0" />
<line x1="24.90" y1="521.62" x2="27.70" y2="521.62" stroke="#000" stroke-width="1.0" />
<line x1="24.90" y1="517.93" x2="27.70" y2="517.93" stroke="#000" stroke-width="1.0" />
<line x1="23.50" y1="514.24" x2="27.70" y2="514.24" stroke="#000" stroke-width="1.0" />
<line x1="24.90" y1="510.55" x2="27.70" y2="510.55" stroke="#000" stroke-width="1.0" />
<line x1="24.90" y1="506.86" x2="27.70" y2="506.86" stroke="#000" stroke-width="1.0" />
<text x="-625.80" y="18.30" font-family="Liberation Sans" font-size="8.8" font-weight="normal" fill="#000" textLength="5.62" lengthAdjust="spacingAndGlyphs" transform="rotate(-90)">0</text>
<text x="-609.92" y="18.30" font-family="Liberation Sans" font-size="8.8" font-weight="normal" fill="#000" textLength="10.64" lengthAdjust="spacingAndGlyphs" transform="rotate(-90)">20</text>
<text x="-591.17" y="18.30" font-family="Liberation Sans" font-size="8.8" font-weight="normal" fill="#000" textLength="10.33" lengthAdjust="spacingAndGlyphs" transform="rotate(-90)">40</text>
<text x="-573.00" y="18.30" font-family="Liberation Sans" font-size="8.8" font-weight="normal" fill="#000" textLength="10.64" lengthAdjust="spacingAndGlyphs" transform="rotate(-90)">60</text>
<text x="-554.44" y="18.30" font-family="Liberation Sans" font-size="8.8" font-weight="normal" fill="#000" textLength="10.53" lengthAdjust="spacingAndGlyphs" transform="rotate(-90)">80</text>
<text x="-538.76" y="18.30" font-family="Liberation Sans" font-size="8.8" font-weight="normal" fill="#000" textLength="15.77" lengthAdjust="spacingAndGlyphs" transform="rotate(-90)">100</text>
<text x="-520.30" y="18.30" font-family="Liberation Sans" font-size="8.8" font-weight="normal" fill="#000" textLength="15.77" lengthAdjust="spacingAndGlyphs" transform="rotate(-90)">120</text>
<line x1="27.70" y1="625.00" x2="27.70" y2="629.00" stroke="#000" stroke-width="0.9" />
<line x1="39.24" y1="625.00" x2="39.24" y2="627.60" stroke="#000" stroke-width="0.9" />
<line x1="46.00" y1="625.00" x2="46.00" y2="627.60" stroke="#000" stroke-width="0.9" />
<line x1="50.79" y1="625.00" x2="50.79" y2="627.60" stroke="#000" stroke-width="0.9" />
<line x1="54.51" y1="625.00" x2="54.51" y2="627.60" stroke="#000" stroke-width="0.9" />
<line x1="57.54" y1="625.00" x2="57.54" y2="627.60" stroke="#000" stroke-width="0.9" />
<line x1="60.11" y1="625.00" x2="60.11" y2="627.60" stroke="#000" stroke-width="0.9" />
<line x1="62.33" y1="625.00" x2="62.33" y2="627.60" stroke="#000" stroke-width="0.9" />
<line x1="64.30" y1="625.00" x2="64.30" y2="627.60" stroke="#000" stroke-width="0.9" />
<line x1="66.05" y1="625.00" x2="66.05" y2="629.00" stroke="#000" stroke-width="0.9" />
<line x1="77.59" y1="625.00" x2="77.59" y2="627.60" stroke="#000" stroke-width="0.9" />
<line x1="84.35" y1="625.00" x2="84.35" y2="627.60" stroke="#000" stroke-width="0.9" />
<line x1="89.14" y1="625.00" x2="89.14" y2="627.60" stroke="#000" stroke-width="0.9" />
<line x1="92.86" y1="625.00" x2="92.86" y2="627.60" stroke="#000" stroke-width="0.9" />
<line x1="95.89" y1="625.00" x2="95.89" y2="627.60" stroke="#000" stroke-width="0.9" />
<line x1="98.46" y1="625.00" x2="98.46" y2="627.60" stroke="#000" stroke-width="0.9" />
<line x1="100.68" y1="625.00" x2="100.68" y2="627.60" stroke="#000" stroke-width="0.9" />
<line x1="102.65" y1="625.00" x2="102.65" y2="627.60" stroke="#000" stroke-width="0.9" />
<line x1="104.40" y1="625.00" x2="104.40" y2="629.00" stroke="#000" stroke-width="0.9" />
<line x1="115.94" y1="625.00" x2="115.94" y2="627.60" stroke="#000" stroke-width="0.9" />
<line x1="122.70" y1="625.00" x2="122.70" y2="627.60" stroke="#000" stroke-width="0.9" />
<line x1="127.49" y1="625.00" x2="127.49" y2="627.60" stroke="#000" stroke-width="0.9" />
<line x1="131.21" y1="625.00" x2="131.21" y2="627.60" stroke="#000" stroke-width="0.9" />
<line x1="134.24" y1="625.00" x2="134.24" y2="627.60" stroke="#000" stroke-width="0.9" />
<line x1="136.81" y1="625.00" x2="136.81" y2="627.60" stroke="#000" stroke-width="0.9" />
<line x1="139.03" y1="625.00" x2="139.03" y2="627.60" stroke="#000" stroke-width="0.9" />
<line x1="141.00" y1="625.00" x2="141.00" y2="627.60" stroke="#000" stroke-width="0.9" />
<line x1="142.75" y1="625.00" x2="142.75" y2="629.00" stroke="#000" stroke-width="0.9" />
<line x1="154.29" y1="625.00" x2="154.29" y2="627.60" stroke="#000" stroke-width="0.9" />
<line x1="161.05" y1="625.00" x2="161.05" y2="627.60" stroke="#000" stroke-width="0.9" />
<line x1="165.84" y1="625.00" x2="165.84" y2="627.60" stroke="#000" stroke-width="0.9" />
<line x1="169.56" y1="625.00" x2="169.56" y2="627.60" stroke="#000" stroke-width="0.9" />
<line x1="172.59" y1="625.00" x2="172.59" y2="627.60" stroke="#000" stroke-width="0.9" />
<line x1="175.16" y1="625.00" x2="175.16" y2="627.60" stroke="#000" stroke-width="0.9" />
<line x1="177.38" y1="625.00" x2="177.38" y2="627.60" stroke="#000" stroke-width="0.9" />
<line x1="179.35" y1="625.00" x2="179.35" y2="627.60" stroke="#000" stroke-width="0.9" />
<line x1="181.10" y1="625.00" x2="181.10" y2="629.00" stroke="#000" stroke-width="0.9" />
<text x="19.53" y="639.41" font-family="Liberation Sans" font-size="8.73" font-weight="normal" fill="#000" >10</text>
<text x="29.77" y="634.23" font-family="Liberation Sans" font-size="6.62" font-weight="normal" fill="#000" textLength="5.28" lengthAdjust="spacingAndGlyphs" >0</text>
<text x="57.88" y="639.41" font-family="Liberation Sans" font-size="8.73" font-weight="normal" fill="#000" >10</text>
<text x="67.66" y="634.30" font-family="Liberation Sans" font-size="6.81" font-weight="normal" fill="#000" textLength="5.88" lengthAdjust="spacingAndGlyphs" >1</text>
<text x="96.23" y="639.41" font-family="Liberation Sans" font-size="8.73" font-weight="normal" fill="#000" >10</text>
<text x="106.30" y="634.30" font-family="Liberation Sans" font-size="6.71" font-weight="normal" fill="#000" textLength="5.56" lengthAdjust="spacingAndGlyphs" >2</text>
<text x="134.58" y="639.41" font-family="Liberation Sans" font-size="8.73" font-weight="normal" fill="#000" >10</text>
<text x="144.81" y="634.23" font-family="Liberation Sans" font-size="6.62" font-weight="normal" fill="#000" textLength="5.33" lengthAdjust="spacingAndGlyphs" >3</text>
<text x="172.93" y="639.41" font-family="Liberation Sans" font-size="8.73" font-weight="normal" fill="#000" >10</text>
<text x="183.32" y="634.30" font-family="Liberation Sans" font-size="6.81" font-weight="normal" fill="#000" textLength="5.02" lengthAdjust="spacingAndGlyphs" >4</text>
<text x="90.46" y="648.60" font-family="Liberation Sans" font-size="8.55" font-weight="normal" fill="#000" textLength="25.77" lengthAdjust="spacingAndGlyphs" >FL1-H</text>
<text x="-579.84" y="8.30" font-family="Liberation Sans" font-size="10.0" font-weight="normal" fill="#000" textLength="27.73" lengthAdjust="spacingAndGlyphs" transform="rotate(-90)">Counts</text>
<text x="37.38" y="526.70" font-family="Liberation Sans" font-size="19.59" font-weight="bold" fill="#000" textLength="11.24" lengthAdjust="spacingAndGlyphs" stroke="#000" stroke-width="0.5">ii</text>
<text x="96.14" y="527.40" font-family="Liberation Sans" font-size="14.48" font-weight="bold" fill="#000" textLength="62.55" lengthAdjust="spacingAndGlyphs" >Akt-1 (-/-)</text>
<text x="45.49" y="568.33" font-family="Liberation Serif" font-size="11.49" font-weight="normal" fill="#000" textLength="38.27" lengthAdjust="spacingAndGlyphs" >MFI:75</text>
<text x="45.48" y="580.87" font-family="Liberation Serif" font-size="12.62" font-weight="normal" fill="#000" textLength="53.96" lengthAdjust="spacingAndGlyphs" >LY+throm</text>
<text x="114.48" y="565.71" font-family="Liberation Serif" font-size="12.44" font-weight="normal" fill="#000" textLength="45.16" lengthAdjust="spacingAndGlyphs" >MFI:115</text>
<text x="121.63" y="575.88" font-family="Liberation Serif" font-size="12.34" font-weight="normal" fill="#000" textLength="34.07" lengthAdjust="spacingAndGlyphs" >throm</text>
<text x="37.02" y="602.18" font-family="Liberation Serif" font-size="12.09" font-weight="bold" fill="#777" textLength="30.59" lengthAdjust="spacingAndGlyphs" >PGE1</text>
</g>
<g>
<path d="M236.90,621.69 L238.22,617.26 L239.54,617.30 L240.86,618.10 L242.18,616.92 L243.50,617.83 L244.82,619.58 L246.14,620.49 L247.46,620.38 L248.78,616.55 L250.10,619.53 L251.42,618.74 L252.74,617.95 L254.06,620.10 L255.39,618.54 L256.71,618.20 L258.03,615.41 L259.35,617.30 L260.67,617.40 L261.99,613.24 L263.31,615.88 L264.63,613.49 L265.95,614.75 L267.27,618.23 L268.59,615.40 L269.91,614.86 L271.23,612.19 L272.55,614.68 L273.87,611.87 L275.19,612.60 L276.51,614.39 L277.83,609.62 L279.15,614.45 L280.47,609.12 L281.79,613.13 L283.11,613.77 L284.43,611.87 L285.75,607.53 L287.07,605.53 L288.39,611.58 L289.71,607.74 L291.04,606.20 L292.36,602.60 L293.68,605.21 L295.00,601.58 L296.32,601.04 L297.64,596.22 L298.96,598.94 L300.28,593.16 L301.60,596.48 L302.92,596.29 L304.24,592.74 L305.56,593.83 L306.88,596.69 L308.20,596.42 L309.52,606.29 L310.84,609.30 L312.16,619.50 L313.48,626.58 L313.48,630.50 L236.90,630.50 Z" fill="#cccccc" stroke="#555" stroke-width="0.8" stroke-linejoin="round"/>
<path d="M236.90,626.39 L237.65,626.39 L237.65,626.58 L238.41,626.58 L238.41,626.55 L239.16,626.55 L239.16,626.55 L239.92,626.55 L239.92,626.20 L240.67,626.20 L240.67,626.77 L241.43,626.77 L241.43,626.21 L242.18,626.21 L242.18,626.82 L242.94,626.82 L242.94,626.69 L243.69,626.69 L243.69,626.65 L244.44,626.65 L244.44,626.20 L245.20,626.20 L245.20,626.48 L245.95,626.48 L245.95,626.57 L246.71,626.57 L246.71,626.21 L247.46,626.21 L247.46,626.67 L248.22,626.67 L248.22,626.51 L248.97,626.51 L248.97,626.46 L249.73,626.46 L249.73,626.30 L250.48,626.30 L250.48,626.30 L251.24,626.30 L251.24,626.38 L251.99,626.38 L251.99,626.59 L252.74,626.59 L252.74,626.60 L253.50,626.60 L253.50,626.72 L254.25,626.72 L254.25,626.24 L255.01,626.24 L255.01,626.37 L255.76,626.37 L255.76,626.31 L256.52,626.31 L256.52,626.71 L257.27,626.71 L257.27,626.52 L258.03,626.52 L258.03,626.29 L258.78,626.29 L258.78,626.42 L259.54,626.42 L259.54,626.74 L260.29,626.74 L260.29,626.51 L261.04,626.51 L261.04,626.21 L261.80,626.21 L261.80,626.67 L262.55,626.67 L262.55,626.70 L263.31,626.70 L263.31,626.62 L264.06,626.62 L264.06,626.34 L264.82,626.34 L264.82,626.24 L265.57,626.24 L265.57,626.72 L266.33,626.72 L266.33,626.72 L267.08,626.72 L267.08,626.66 L267.83,626.66 L267.83,626.60 L268.59,626.60 L268.59,626.46 L269.34,626.46 L269.34,626.72 L270.10,626.72 L270.10,626.60 L270.85,626.60 L270.85,626.70 L271.61,626.70 L271.61,626.14 L272.36,626.14 L272.36,626.32 L273.12,626.32 L273.12,626.76 L273.87,626.76 L273.87,626.15 L274.62,626.15 L274.62,626.76 L275.38,626.76 L275.38,626.46 L276.13,626.46 L276.13,625.93 L276.89,625.93 L276.89,625.97 L277.64,625.97 L277.64,625.91 L278.40,625.91 L278.40,626.03 L279.15,626.03 L279.15,626.11 L279.91,626.11 L279.91,625.68 L280.66,625.68 L280.66,625.98 L281.42,625.98 L281.42,625.81 L282.17,625.81 L282.17,625.57 L282.92,625.57 L282.92,625.75 L283.68,625.75 L283.68,625.36 L284.43,625.36 L284.43,624.96 L285.19,624.96 L285.19,624.93 L285.94,624.93 L285.94,624.99 L286.70,624.99 L286.70,624.78 L287.45,624.78 L287.45,624.82 L288.21,624.82 L288.21,624.64 L288.96,624.64 L288.96,623.80 L289.72,623.80 L289.72,623.53 L290.47,623.53 L290.47,622.77 L291.22,622.77 L291.22,622.15 L291.98,622.15 L291.98,622.16 L292.73,622.16 L292.73,621.57 L293.49,621.57 L293.49,620.93 L294.24,620.93 L294.24,620.83 L295.00,620.83 L295.00,620.59 L295.75,620.59 L295.75,619.59 L296.51,619.59 L296.51,618.77 L297.26,618.77 L297.26,618.07 L298.01,618.07 L298.01,617.34 L298.77,617.34 L298.77,616.32 L299.52,616.32 L299.52,615.73 L300.28,615.73 L300.28,614.96 L301.03,614.96 L301.03,614.42 L301.79,614.42 L301.79,613.88 L302.54,613.88 L302.54,612.66 L303.30,612.66 L303.30,612.70 L304.05,612.70 L304.05,611.47 L304.81,611.47 L304.81,610.20 L305.56,610.20 L305.56,609.61 L306.31,609.61 L306.31,609.04 L307.07,609.04 L307.07,608.91 L307.82,608.91 L307.82,607.95 L308.58,607.95 L308.58,607.88 L309.33,607.88 L309.33,608.26 L310.09,608.26 L310.09,609.21 L310.84,609.21 L310.84,609.44 L311.60,609.44 L311.60,609.69 L312.35,609.69 L312.35,611.45 L313.10,611.45 L313.10,611.46 L313.86,611.46 L313.86,611.99 L314.61,611.99 L314.61,613.30 L315.37,613.30 L315.37,613.87 L316.12,613.87 L316.12,613.88 L316.88,613.88 L316.88,615.95 L317.63,615.95 L317.63,615.90 L318.39,615.90 L318.39,617.08 L319.14,617.08 L319.14,616.92 L319.90,616.92 L319.90,617.40 L320.65,617.40 L320.65,618.60 L321.40,618.60 L321.40,619.75 L322.16,619.75 L322.16,619.76 L322.91,619.76 L322.91,620.26 L323.67,620.26 L323.67,620.52 L324.42,620.52 L324.42,621.20 L325.18,621.20 L325.18,621.52 L325.93,621.52 L325.93,621.80 L326.69,621.80 L326.69,622.56 L327.44,622.56 L327.44,623.11 L328.19,623.11 L328.19,623.08 L328.95,623.08 L328.95,624.19 L329.70,624.19 L329.70,624.17 L330.46,624.17 L330.46,624.80 L331.21,624.80 L331.21,624.89 L331.97,624.89 L331.97,625.78 L332.72,625.78 L332.72,625.51 L333.48,625.51 L333.48,626.36 L334.23,626.36 L334.23,626.96 L334.99,626.96 L334.99,627.19 L335.74,627.19 L335.74,627.48 L336.49,627.48 L336.49,627.94 L337.25,627.94 L337.25,627.89 L338.00,627.89 L338.00,628.09 L338.76,628.09 L338.76,628.14 L339.51,628.14 L339.51,628.55 L340.27,628.55 L340.27,628.81 L341.02,628.81 L341.02,629.03 L341.78,629.03 L341.78,629.09 L342.53,629.09 L342.53,629.30 L342.53,630.50 L236.90,630.50 Z" fill="#b0b0b0" stroke="#9a9a9a" stroke-width="0.4"/>
<path d="M303.30,594.28 L304.43,594.18 L305.56,597.06 L306.69,599.44 L307.82,597.46 L308.95,601.16 L310.09,604.15 L311.22,606.67 L312.35,604.07 L313.48,604.47 L314.61,605.90 L315.75,607.64 L316.88,608.32 L318.01,611.09 L319.14,608.53 L320.27,612.42 L321.40,611.93 L322.54,611.95 L323.67,612.75 L324.80,615.20 L325.93,616.74 L327.06,616.49 L328.19,619.37 L329.33,617.67 L330.46,620.61 L331.59,619.38 L332.72,621.94 L333.85,622.08 L334.98,622.99 L336.12,622.96 L337.25,624.11 L338.38,625.01 L339.51,623.34 L340.64,624.95 L341.78,625.43 L342.91,625.78 L344.04,625.90 L345.17,626.60 L346.30,626.72 L347.43,627.27 L348.57,628.34 L349.70,627.67 L350.83,628.25 L351.96,629.30" fill="none" stroke="#000" stroke-width="0.95" stroke-linejoin="round"/>
<path d="M236.90,624.50 L237.65,624.50 L237.65,622.39 L238.41,622.39 L238.41,622.17 L239.16,622.17 L239.16,622.51 L239.92,622.51 L239.92,624.27 L240.67,624.27 L240.67,622.38 L241.43,622.38 L241.43,622.92 L242.18,622.92 L242.18,624.61 L242.94,624.61 L242.94,624.62 L243.69,624.62 L243.69,622.05 L244.44,622.05 L244.44,622.86 L245.20,622.86 L245.20,623.97 L245.95,623.97 L245.95,624.37 L246.71,624.37 L246.71,624.26 L247.46,624.26 L247.46,624.01 L248.22,624.01 L248.22,622.53 L248.97,622.53 L248.97,623.70 L249.73,623.70 L249.73,624.23 L250.48,624.23 L250.48,622.18 L251.24,622.18 L251.24,622.49 L251.99,622.49 L251.99,624.16 L252.74,624.16 L252.74,622.14 L253.50,622.14 L253.50,622.88 L254.25,622.88 L254.25,622.36 L255.01,622.36 L255.01,622.63 L255.76,622.63 L255.76,621.97 L256.52,621.97 L256.52,622.23 L257.27,622.23 L257.27,622.05 L258.03,622.05 L258.03,623.80 L258.78,623.80 L258.78,622.38 L259.54,622.38 L259.54,622.79 L260.29,622.79 L260.29,622.16 L261.04,622.16 L261.04,622.98 L261.80,622.98 L261.80,621.69 L262.55,621.69 L262.55,622.58 L263.31,622.58 L263.31,623.37 L264.06,623.37 L264.06,623.42 L264.82,623.42 L264.82,623.66 L265.57,623.66 L265.57,622.61 L266.33,622.61 L266.33,623.82 L267.08,623.82 L267.08,622.60 L267.83,622.60 L267.83,623.49 L268.59,623.49 L268.59,622.43 L269.34,622.43 L269.34,622.36 L270.10,622.36 L270.10,622.19 L270.85,622.19 L270.85,621.19 L271.61,621.19 L271.61,623.66 L272.36,623.66 L272.36,621.15 L273.12,621.15 L273.12,622.20 L273.87,622.20 L273.87,621.87 L274.62,621.87 L274.62,621.51 L275.38,621.51 L275.38,620.93 L276.13,620.93 L276.13,622.28 L276.89,622.28 L276.89,622.10 L277.64,622.10 L277.64,620.41 L278.40,620.41 L278.40,623.04 L279.15,623.04 L279.15,621.28 L279.91,621.28 L279.91,621.23 L280.66,621.23 L280.66,623.04 L281.42,623.04 L281.42,621.21 L282.17,621.21 L282.17,620.94 L282.92,620.94 L282.92,620.01 L283.68,620.01 L283.68,621.73 L284.43,621.73 L284.43,619.52 L285.19,619.52 L285.19,620.86 L285.94,620.86 L285.94,620.79 L286.70,620.79 L286.70,619.29 L287.45,619.29 L287.45,621.96 L288.21,621.96 L288.21,619.56 L288.96,619.56 L288.96,619.71 L289.72,619.71 L289.72,620.52 L290.47,620.52 L290.47,618.37 L291.22,618.37 L291.22,619.53 L291.98,619.53 L291.98,618.58 L292.73,618.58 L292.73,617.83 L293.49,617.83 L293.49,616.31 L294.24,616.31 L294.24,617.95 L295.00,617.95 L295.00,616.50 L295.75,616.50 L295.75,616.00 L296.51,616.00 L296.51,614.87 L297.26,614.87 L297.26,613.10 L298.01,613.10 L298.01,614.88 L298.77,614.88 L298.77,611.84 L299.52,611.84 L299.52,613.13 L300.28,613.13 L300.28,612.05 L301.03,612.05 L301.03,612.47 L301.79,612.47 L301.79,610.78 L302.54,610.78 L302.54,607.50 L303.30,607.50 L303.30,607.23 L304.05,607.23 L304.05,604.90 L304.81,604.90 L304.81,605.27 L305.56,605.27 L305.56,603.62 L306.31,603.62 L306.31,601.39 L307.07,601.39 L307.07,597.78 L307.82,597.78 L307.82,595.25 L308.58,595.25 L308.58,592.26 L309.33,592.26 L309.33,593.31 L310.09,593.31 L310.09,585.26 L310.84,585.26 L310.84,579.55 L311.60,579.55 L311.60,576.12 L312.35,576.12 L312.35,574.43 L313.10,574.43 L313.10,570.40 L313.86,570.40 L313.86,568.84 L314.61,568.84 L314.61,565.12 L315.37,565.12 L315.37,559.66 L316.12,559.66 L316.12,559.64 L316.88,559.64 L316.88,557.98 L317.63,557.98 L317.63,555.96 L318.39,555.96 L318.39,553.10 L319.14,553.10 L319.14,551.25 L319.90,551.25 L319.90,554.85 L320.65,554.85 L320.65,558.43 L321.40,558.43 L321.40,561.74 L322.16,561.74 L322.16,565.67 L322.91,565.67 L322.91,568.63 L323.67,568.63 L323.67,574.08 L324.42,574.08 L324.42,575.37 L325.18,575.37 L325.18,580.18 L325.93,580.18 L325.93,583.21 L326.69,583.21 L326.69,590.60 L327.44,590.60 L327.44,594.64 L328.19,594.64 L328.19,598.68 L328.95,598.68 L328.95,598.73 L329.70,598.73 L329.70,601.49 L330.46,601.49 L330.46,606.04 L331.21,606.04 L331.21,610.20 L331.97,610.20 L331.97,611.02 L332.72,611.02 L332.72,614.12 L333.48,614.12 L333.48,617.98 L334.23,617.98 L334.23,620.22 L334.99,620.22 L334.99,621.18 L335.74,621.18 L335.74,621.94 L336.49,621.94 L336.49,623.38 L337.25,623.38 L337.25,624.22 L338.00,624.22 L338.00,623.98 L338.76,623.98 L338.76,623.57 L339.51,623.57 L339.51,626.02 L340.27,626.02 L340.27,625.09 L341.02,625.09 L341.02,626.61 L341.78,626.61 L341.78,626.71 L342.53,626.71 L342.53,625.46 L343.28,625.46 L343.28,626.22 L344.04,626.22 L344.04,625.76 L344.79,625.76 L344.79,627.00 L345.55,627.00 L345.55,628.11 L346.30,628.11 L346.30,627.61 L347.06,627.61 L347.06,627.46 L347.81,627.46 L347.81,627.08 L348.57,627.08 L348.57,627.08 L349.32,627.08 L349.32,628.09 L350.08,628.09 L350.08,628.27 L350.83,628.27 L350.83,628.90 L351.58,628.90 L351.58,628.01 L352.34,628.01 L352.34,628.85 L353.09,628.85 L353.09,629.03 L353.85,629.03 L353.85,629.30 L354.60,629.30 L354.60,629.30 L355.36,629.30 L355.36,628.33 L356.11,628.33 L356.11,629.30 L356.87,629.30 L356.87,628.01 L357.62,628.01 L357.62,629.30 L358.37,629.30 L358.37,628.28 L359.13,628.28 L359.13,629.30 L359.88,629.30 L359.88,629.30 L360.64,629.30 L360.64,629.03 L361.39,629.03 L361.39,629.08 L362.15,629.08 L362.15,629.12 L362.90,629.12 L362.90,629.17 L363.66,629.17 L363.66,629.21 L364.41,629.21 L364.41,629.26 L365.17,629.26 L365.17,629.30 L365.92,629.30 L365.92,629.30 L366.67,629.30 L366.67,629.30 L367.43,629.30 L367.43,629.30 L368.18,629.30 L368.18,629.30 L368.94,629.30 L368.94,629.30 L369.69,629.30 L369.69,629.30 L370.45,629.30 L370.45,629.30 L371.20,629.30 L371.20,629.30 L371.96,629.30 L371.96,629.30 L372.71,629.30 L372.71,629.30 L373.46,629.30 L373.46,629.30 L374.22,629.30 L374.22,629.30 L374.97,629.30 L374.97,629.30 L375.73,629.30 L375.73,629.30 L376.48,629.30 L376.48,629.30 L377.24,629.30 L377.24,629.30 L377.99,629.30 L377.99,629.30 L378.75,629.30 L378.75,629.30 L379.50,629.30 L379.50,629.30 L380.26,629.30 L380.26,629.30 L381.01,629.30 L381.01,629.30 L381.76,629.30 L381.76,629.30 L382.52,629.30 L382.52,629.30 L383.27,629.30 L383.27,629.30 L384.03,629.30 L384.03,629.30 L384.78,629.30 L384.78,629.30 L385.54,629.30 L385.54,629.30 L386.29,629.30 L386.29,629.30 L387.05,629.30 L387.05,629.30 L387.80,629.30 L387.80,629.30" fill="none" stroke="#000" stroke-width="2.5" stroke-linejoin="round"/>
<line x1="236.90" y1="505.50" x2="387.80" y2="505.50" stroke="#222" stroke-width="1.3" />
<line x1="387.80" y1="505.50" x2="387.80" y2="630.50" stroke="#444" stroke-width="1.3" />
<line x1="236.90" y1="504.90" x2="236.90" y2="632.00" stroke="#000" stroke-width="2.7" />
<line x1="235.60" y1="630.50" x2="387.80" y2="630.50" stroke="#000" stroke-width="2.0" />
<line x1="232.70" y1="629.00" x2="236.90" y2="629.00" stroke="#000" stroke-width="1.0" />
<line x1="234.10" y1="625.18" x2="236.90" y2="625.18" stroke="#000" stroke-width="1.0" />
<line x1="234.10" y1="621.36" x2="236.90" y2="621.36" stroke="#000" stroke-width="1.0" />
<line x1="234.10" y1="617.54" x2="236.90" y2="617.54" stroke="#000" stroke-width="1.0" />
<line x1="234.10" y1="613.72" x2="236.90" y2="613.72" stroke="#000" stroke-width="1.0" />
<line x1="232.70" y1="609.90" x2="236.90" y2="609.90" stroke="#000" stroke-width="1.0" />
<line x1="234.10" y1="606.08" x2="236.90" y2="606.08" stroke="#000" stroke-width="1.0" />
<line x1="234.10" y1="602.26" x2="236.90" y2="602.26" stroke="#000" stroke-width="1.0" />
<line x1="234.10" y1="598.44" x2="236.90" y2="598.44" stroke="#000" stroke-width="1.0" />
<line x1="234.10" y1="594.62" x2="236.90" y2="594.62" stroke="#000" stroke-width="1.0" />
<line x1="232.70" y1="590.80" x2="236.90" y2="590.80" stroke="#000" stroke-width="1.0" />
<line x1="234.10" y1="586.98" x2="236.90" y2="586.98" stroke="#000" stroke-width="1.0" />
<line x1="234.10" y1="583.16" x2="236.90" y2="583.16" stroke="#000" stroke-width="1.0" />
<line x1="234.10" y1="579.34" x2="236.90" y2="579.34" stroke="#000" stroke-width="1.0" />
<line x1="234.10" y1="575.52" x2="236.90" y2="575.52" stroke="#000" stroke-width="1.0" />
<line x1="232.70" y1="571.70" x2="236.90" y2="571.70" stroke="#000" stroke-width="1.0" />
<line x1="234.10" y1="567.88" x2="236.90" y2="567.88" stroke="#000" stroke-width="1.0" />
<line x1="234.10" y1="564.06" x2="236.90" y2="564.06" stroke="#000" stroke-width="1.0" />
<line x1="234.10" y1="560.24" x2="236.90" y2="560.24" stroke="#000" stroke-width="1.0" />
<line x1="234.10" y1="556.42" x2="236.90" y2="556.42" stroke="#000" stroke-width="1.0" />
<line x1="232.70" y1="552.60" x2="236.90" y2="552.60" stroke="#000" stroke-width="1.0" />
<line x1="234.10" y1="548.78" x2="236.90" y2="548.78" stroke="#000" stroke-width="1.0" />
<line x1="234.10" y1="544.96" x2="236.90" y2="544.96" stroke="#000" stroke-width="1.0" />
<line x1="234.10" y1="541.14" x2="236.90" y2="541.14" stroke="#000" stroke-width="1.0" />
<line x1="234.10" y1="537.32" x2="236.90" y2="537.32" stroke="#000" stroke-width="1.0" />
<line x1="232.70" y1="533.50" x2="236.90" y2="533.50" stroke="#000" stroke-width="1.0" />
<line x1="234.10" y1="529.68" x2="236.90" y2="529.68" stroke="#000" stroke-width="1.0" />
<line x1="234.10" y1="525.86" x2="236.90" y2="525.86" stroke="#000" stroke-width="1.0" />
<line x1="234.10" y1="522.04" x2="236.90" y2="522.04" stroke="#000" stroke-width="1.0" />
<line x1="234.10" y1="518.22" x2="236.90" y2="518.22" stroke="#000" stroke-width="1.0" />
<line x1="232.70" y1="514.40" x2="236.90" y2="514.40" stroke="#000" stroke-width="1.0" />
<line x1="234.10" y1="510.58" x2="236.90" y2="510.58" stroke="#000" stroke-width="1.0" />
<line x1="234.10" y1="506.76" x2="236.90" y2="506.76" stroke="#000" stroke-width="1.0" />
<text x="-629.80" y="228.00" font-family="Liberation Sans" font-size="8.8" font-weight="normal" fill="#000" textLength="5.62" lengthAdjust="spacingAndGlyphs" transform="rotate(-90)">0</text>
<text x="-613.28" y="228.00" font-family="Liberation Sans" font-size="8.8" font-weight="normal" fill="#000" textLength="10.64" lengthAdjust="spacingAndGlyphs" transform="rotate(-90)">20</text>
<text x="-593.89" y="228.00" font-family="Liberation Sans" font-size="8.8" font-weight="normal" fill="#000" textLength="10.33" lengthAdjust="spacingAndGlyphs" transform="rotate(-90)">40</text>
<text x="-575.08" y="228.00" font-family="Liberation Sans" font-size="8.8" font-weight="normal" fill="#000" textLength="10.64" lengthAdjust="spacingAndGlyphs" transform="rotate(-90)">60</text>
<text x="-555.88" y="228.00" font-family="Liberation Sans" font-size="8.8" font-weight="normal" fill="#000" textLength="10.53" lengthAdjust="spacingAndGlyphs" transform="rotate(-90)">80</text>
<text x="-539.56" y="228.00" font-family="Liberation Sans" font-size="8.8" font-weight="normal" fill="#000" textLength="15.77" lengthAdjust="spacingAndGlyphs" transform="rotate(-90)">100</text>
<text x="-520.46" y="228.00" font-family="Liberation Sans" font-size="8.8" font-weight="normal" fill="#000" textLength="15.77" lengthAdjust="spacingAndGlyphs" transform="rotate(-90)">120</text>
<line x1="236.90" y1="630.50" x2="236.90" y2="634.50" stroke="#000" stroke-width="0.9" />
<line x1="248.26" y1="630.50" x2="248.26" y2="633.10" stroke="#000" stroke-width="0.9" />
<line x1="254.90" y1="630.50" x2="254.90" y2="633.10" stroke="#000" stroke-width="0.9" />
<line x1="259.61" y1="630.50" x2="259.61" y2="633.10" stroke="#000" stroke-width="0.9" />
<line x1="263.27" y1="630.50" x2="263.27" y2="633.10" stroke="#000" stroke-width="0.9" />
<line x1="266.26" y1="630.50" x2="266.26" y2="633.10" stroke="#000" stroke-width="0.9" />
<line x1="268.78" y1="630.50" x2="268.78" y2="633.10" stroke="#000" stroke-width="0.9" />
<line x1="270.97" y1="630.50" x2="270.97" y2="633.10" stroke="#000" stroke-width="0.9" />
<line x1="272.90" y1="630.50" x2="272.90" y2="633.10" stroke="#000" stroke-width="0.9" />
<line x1="274.62" y1="630.50" x2="274.62" y2="634.50" stroke="#000" stroke-width="0.9" />
<line x1="285.98" y1="630.50" x2="285.98" y2="633.10" stroke="#000" stroke-width="0.9" />
<line x1="292.62" y1="630.50" x2="292.62" y2="633.10" stroke="#000" stroke-width="0.9" />
<line x1="297.34" y1="630.50" x2="297.34" y2="633.10" stroke="#000" stroke-width="0.9" />
<line x1="300.99" y1="630.50" x2="300.99" y2="633.10" stroke="#000" stroke-width="0.9" />
<line x1="303.98" y1="630.50" x2="303.98" y2="633.10" stroke="#000" stroke-width="0.9" />
<line x1="306.51" y1="630.50" x2="306.51" y2="633.10" stroke="#000" stroke-width="0.9" />
<line x1="308.69" y1="630.50" x2="308.69" y2="633.10" stroke="#000" stroke-width="0.9" />
<line x1="310.62" y1="630.50" x2="310.62" y2="633.10" stroke="#000" stroke-width="0.9" />
<line x1="312.35" y1="630.50" x2="312.35" y2="634.50" stroke="#000" stroke-width="0.9" />
<line x1="323.71" y1="630.50" x2="323.71" y2="633.10" stroke="#000" stroke-width="0.9" />
<line x1="330.35" y1="630.50" x2="330.35" y2="633.10" stroke="#000" stroke-width="0.9" />
<line x1="335.06" y1="630.50" x2="335.06" y2="633.10" stroke="#000" stroke-width="0.9" />
<line x1="338.72" y1="630.50" x2="338.72" y2="633.10" stroke="#000" stroke-width="0.9" />
<line x1="341.71" y1="630.50" x2="341.71" y2="633.10" stroke="#000" stroke-width="0.9" />
<line x1="344.23" y1="630.50" x2="344.23" y2="633.10" stroke="#000" stroke-width="0.9" />
<line x1="346.42" y1="630.50" x2="346.42" y2="633.10" stroke="#000" stroke-width="0.9" />
<line x1="348.35" y1="630.50" x2="348.35" y2="633.10" stroke="#000" stroke-width="0.9" />
<line x1="350.08" y1="630.50" x2="350.08" y2="634.50" stroke="#000" stroke-width="0.9" />
<line x1="361.43" y1="630.50" x2="361.43" y2="633.10" stroke="#000" stroke-width="0.9" />
<line x1="368.07" y1="630.50" x2="368.07" y2="633.10" stroke="#000" stroke-width="0.9" />
<line x1="372.79" y1="630.50" x2="372.79" y2="633.10" stroke="#000" stroke-width="0.9" />
<line x1="376.44" y1="630.50" x2="376.44" y2="633.10" stroke="#000" stroke-width="0.9" />
<line x1="379.43" y1="630.50" x2="379.43" y2="633.10" stroke="#000" stroke-width="0.9" />
<line x1="381.96" y1="630.50" x2="381.96" y2="633.10" stroke="#000" stroke-width="0.9" />
<line x1="384.14" y1="630.50" x2="384.14" y2="633.10" stroke="#000" stroke-width="0.9" />
<line x1="386.07" y1="630.50" x2="386.07" y2="633.10" stroke="#000" stroke-width="0.9" />
<line x1="387.80" y1="630.50" x2="387.80" y2="634.50" stroke="#000" stroke-width="0.9" />
<text x="228.73" y="644.91" font-family="Liberation Sans" font-size="8.73" font-weight="normal" fill="#000" >10</text>
<text x="238.97" y="639.73" font-family="Liberation Sans" font-size="6.62" font-weight="normal" fill="#000" textLength="5.28" lengthAdjust="spacingAndGlyphs" >0</text>
<text x="266.46" y="644.91" font-family="Liberation Sans" font-size="8.73" font-weight="normal" fill="#000" >10</text>
<text x="276.23" y="639.80" font-family="Liberation Sans" font-size="6.81" font-weight="normal" fill="#000" textLength="5.88" lengthAdjust="spacingAndGlyphs" >1</text>
<text x="304.18" y="644.91" font-family="Liberation Sans" font-size="8.73" font-weight="normal" fill="#000" >10</text>
<text x="314.25" y="639.80" font-family="Liberation Sans" font-size="6.71" font-weight="normal" fill="#000" textLength="5.56" lengthAdjust="spacingAndGlyphs" >2</text>
<text x="341.91" y="644.91" font-family="Liberation Sans" font-size="8.73" font-weight="normal" fill="#000" >10</text>
<text x="352.14" y="639.73" font-family="Liberation Sans" font-size="6.62" font-weight="normal" fill="#000" textLength="5.33" lengthAdjust="spacingAndGlyphs" >3</text>
<text x="379.63" y="644.91" font-family="Liberation Sans" font-size="8.73" font-weight="normal" fill="#000" >10</text>
<text x="390.02" y="639.80" font-family="Liberation Sans" font-size="6.81" font-weight="normal" fill="#000" textLength="5.02" lengthAdjust="spacingAndGlyphs" >4</text>
<text x="298.41" y="654.10" font-family="Liberation Sans" font-size="8.55" font-weight="normal" fill="#000" textLength="25.77" lengthAdjust="spacingAndGlyphs" >FL1-H</text>
<text x="-581.84" y="217.61" font-family="Liberation Sans" font-size="9.44" font-weight="normal" fill="#000" textLength="28.14" lengthAdjust="spacingAndGlyphs" transform="rotate(-90)">Counts</text>
<text x="255.65" y="527.80" font-family="Liberation Sans" font-size="20.41" font-weight="bold" fill="#000" textLength="16.03" lengthAdjust="spacingAndGlyphs" stroke="#000" stroke-width="0.5">iv</text>
<text x="302.35" y="527.70" font-family="Liberation Sans" font-size="14.21" font-weight="bold" fill="#000" >Akt-1 (-/-)</text>
<text x="245.28" y="576.72" font-family="Liberation Serif" font-size="12.07" font-weight="normal" fill="#000" textLength="39.45" lengthAdjust="spacingAndGlyphs" >MFI:62</text>
<text x="245.27" y="589.47" font-family="Liberation Serif" font-size="12.77" font-weight="normal" fill="#000" textLength="54.61" lengthAdjust="spacingAndGlyphs" >LY+throm</text>
<text x="322.18" y="554.61" font-family="Liberation Serif" font-size="12.5" font-weight="normal" fill="#000" textLength="45.38" lengthAdjust="spacingAndGlyphs" >MFI:130</text>
<text x="326.63" y="564.68" font-family="Liberation Serif" font-size="12.2" font-weight="normal" fill="#000" textLength="32.05" lengthAdjust="spacingAndGlyphs" >throm</text>
<text x="246.02" y="610.37" font-family="Liberation Serif" font-size="12.54" font-weight="bold" fill="#777" textLength="30.79" lengthAdjust="spacingAndGlyphs" >PGE1</text>
</g>
<text x="408.19" y="305.40" font-family="Liberation Sans" font-size="25" font-weight="bold" fill="#000" >D</text>
<rect x="411.00" y="313.50" width="108.00" height="175.30" fill="#0a0a0a" />
<rect x="411.00" y="491.00" width="108.00" height="176.00" fill="#0a0a0a" />
<rect x="519.00" y="313.50" width="1.00" height="353.50" fill="#e0e0e0" />
<defs><filter id="b05" x="-50%" y="-50%" width="200%" height="200%"><feGaussianBlur stdDeviation="0.5"/></filter><filter id="b08" x="-50%" y="-50%" width="200%" height="200%"><feGaussianBlur stdDeviation="0.8"/></filter><filter id="b12" x="-50%" y="-50%" width="200%" height="200%"><feGaussianBlur stdDeviation="1.2"/></filter><filter id="b20" x="-50%" y="-50%" width="200%" height="200%"><feGaussianBlur stdDeviation="2.0"/></filter><radialGradient id="rc"><stop offset="0" stop-color="#565656"/><stop offset="0.75" stop-color="#505050"/><stop offset="0.92" stop-color="#3c3c3c"/><stop offset="1" stop-color="#0a0a0a" stop-opacity="0"/></radialGradient><radialGradient id="rcb"><stop offset="0" stop-color="#666"/><stop offset="0.75" stop-color="#5e5e5e"/><stop offset="0.92" stop-color="#444"/><stop offset="1" stop-color="#0a0a0a" stop-opacity="0"/></radialGradient><radialGradient id="rcd"><stop offset="0" stop-color="#474747"/><stop offset="0.75" stop-color="#424242"/><stop offset="0.92" stop-color="#303030"/><stop offset="1" stop-color="#0a0a0a" stop-opacity="0"/></radialGradient><radialGradient id="rcc"><stop offset="0" stop-color="#7a7a7a"/><stop offset="0.75" stop-color="#727272"/><stop offset="0.92" stop-color="#505050"/><stop offset="1" stop-color="#0a0a0a" stop-opacity="0"/></radialGradient><radialGradient id="sp"><stop offset="0" stop-color="#5a5a5a"/><stop offset="0.6" stop-color="#3c3c3c"/><stop offset="1" stop-color="#0a0a0a" stop-opacity="0"/></radialGradient><clipPath id="c1"><rect x="411" y="313.5" width="108" height="175.3"/></clipPath><clipPath id="c2"><rect x="411" y="491" width="108" height="176"/></clipPath></defs>
<g clip-path="url(#c1)">
<polygon points="450.0,328.0 455.0,322.0 461.0,320.5 467.0,322.0 468.5,328.0 466.0,334.0 460.0,336.0 454.0,337.0" fill="#2e2e2e" opacity="1" filter="url(#b12)"/>
<ellipse cx="463.2" cy="328.3" rx="3.2" ry="5.4" fill="#808080" opacity="1" filter="url(#b08)" transform="rotate(-10 463.2 328.3)"/>
<ellipse cx="463.4" cy="328.8" rx="1.8" ry="3.0" fill="#a8a8a8" opacity="1" filter="url(#b08)" transform="rotate(-10 463.4 328.8)"/>
<ellipse cx="458" cy="330" rx="3.5" ry="3.2" fill="#4a4a4a" opacity="1" filter="url(#b08)" transform="rotate(0 458 330)"/>
<ellipse cx="453.8" cy="333.2" rx="3.2" ry="2.4" fill="#b0b0b0" opacity="1" filter="url(#b08)" transform="rotate(-30 453.8 333.2)"/>
<ellipse cx="451.3" cy="325.0" rx="3.6" ry="1.3" fill="#d0d0d0" opacity="1" filter="url(#b05)" transform="rotate(-10 451.3 325.0)"/>
<ellipse cx="448.8" cy="337.7" rx="3.2" ry="1.5" fill="#f0f0f0" opacity="1" filter="url(#b05)" transform="rotate(-40 448.8 337.7)"/>
<ellipse cx="453.8" cy="321.4" rx="1.4" ry="1.4" fill="#808080" opacity="1" filter="url(#b05)" transform="rotate(0 453.8 321.4)"/>
<polygon points="411.0,356.0 415.0,352.5 420.0,353.5 424.0,357.0 426.0,362.0 428.5,369.0 430.0,372.5 427.0,373.0 424.3,371.0 421.0,372.5 416.0,369.0 412.0,366.0" fill="#303030" opacity="1" filter="url(#b12)"/>
<ellipse cx="416.5" cy="358.5" rx="5" ry="4" fill="#5a5a5a" opacity="1" filter="url(#b12)" transform="rotate(0 416.5 358.5)"/>
<ellipse cx="421" cy="364" rx="3" ry="4" fill="#4a4a4a" opacity="1" filter="url(#b08)" transform="rotate(0 421 364)"/>
<ellipse cx="425.3" cy="369.0" rx="2.6" ry="3.2" fill="#c8c8c8" opacity="1" filter="url(#b08)" transform="rotate(0 425.3 369.0)"/>
<polygon points="422.6,372 425,364.8 428.2,372.2 425.5,371" fill="#f0f0f0" filter="url(#b05)"/>
<ellipse cx="424.3" cy="374.0" rx="1.8" ry="1.0" fill="#0a0a0a" opacity="1" filter="url(#b05)" transform="rotate(0 424.3 374.0)"/>
<polygon points="455.0,364.0 460.0,359.5 467.0,359.0 472.0,361.5 474.0,366.0 473.0,372.0 470.5,377.0 468.5,379.5 464.0,374.0 459.0,371.0 455.5,368.0" fill="#2c2c2c" opacity="1" filter="url(#b12)"/>
<ellipse cx="467" cy="365.5" rx="4.5" ry="3.5" fill="#606060" opacity="1" filter="url(#b08)" transform="rotate(0 467 365.5)"/>
<ellipse cx="462" cy="364" rx="2.5" ry="2" fill="#4a4a4a" opacity="1" filter="url(#b08)" transform="rotate(0 462 364)"/>
<ellipse cx="468" cy="371.0" rx="3.2" ry="2.2" fill="#d0d0d0" opacity="1" filter="url(#b08)" transform="rotate(0 468 371.0)"/>
<ellipse cx="468" cy="371.2" rx="1.8" ry="1.2" fill="#f0f0f0" opacity="1" filter="url(#b05)" transform="rotate(0 468 371.2)"/>
<ellipse cx="467.4" cy="374.8" rx="1.5" ry="1.0" fill="#0a0a0a" opacity="1" filter="url(#b05)" transform="rotate(0 467.4 374.8)"/>
<ellipse cx="511.5" cy="358.2" rx="6.0" ry="7.3" fill="url(#rcd)" filter="url(#b08)"/>
<ellipse cx="508.8" cy="359.2" rx="1.3" ry="1.0" fill="#767676" opacity="0.6" filter="url(#b05)" transform="rotate(34 508.8 359.2)"/>
<ellipse cx="512.3" cy="355.2" rx="1.6" ry="0.6" fill="#808080" opacity="0.6" filter="url(#b05)" transform="rotate(55 512.3 355.2)"/>
<ellipse cx="514.3" cy="360.5" rx="1.4" ry="0.8" fill="#262626" opacity="0.6" filter="url(#b05)" transform="rotate(82 514.3 360.5)"/>
<ellipse cx="511.3" cy="354.4" rx="0.8" ry="0.9" fill="#808080" opacity="0.6" filter="url(#b05)" transform="rotate(11 511.3 354.4)"/>
<ellipse cx="512.2" cy="360.3" rx="1.6" ry="0.8" fill="#262626" opacity="0.6" filter="url(#b05)" transform="rotate(106 512.2 360.3)"/>
<ellipse cx="512.1" cy="360.3" rx="1.3" ry="0.9" fill="#6e6e6e" opacity="0.6" filter="url(#b05)" transform="rotate(82 512.1 360.3)"/>
<ellipse cx="510.8" cy="362.8" rx="1.5" ry="0.8" fill="#262626" opacity="0.6" filter="url(#b05)" transform="rotate(41 510.8 362.8)"/>
<ellipse cx="511.3" cy="359.4" rx="1.2" ry="1.0" fill="#262626" opacity="0.6" filter="url(#b05)" transform="rotate(70 511.3 359.4)"/>
<polygon points="426.0,404.0 431.0,402.5 436.0,403.0 440.0,408.0 441.0,414.0 442.0,418.0 452.5,418.5 452.5,420.0 441.0,421.5 436.0,423.5 430.0,425.5 426.5,421.0 427.0,412.0" fill="#2e2e2e" opacity="1" filter="url(#b12)"/>
<ellipse cx="431.5" cy="408.0" rx="4.2" ry="2.8" fill="#858585" opacity="1" filter="url(#b08)" transform="rotate(0 431.5 408.0)"/>
<ellipse cx="437.7" cy="412.6" rx="2.4" ry="3.4" fill="#5a5a5a" opacity="1" filter="url(#b08)" transform="rotate(0 437.7 412.6)"/>
<ellipse cx="438" cy="419.0" rx="2.4" ry="2.2" fill="#7c7c7c" opacity="1" filter="url(#b08)" transform="rotate(0 438 419.0)"/>
<ellipse cx="432.3" cy="407.6" rx="1.6" ry="1.6" fill="#f0f0f0" opacity="1" filter="url(#b05)" transform="rotate(0 432.3 407.6)"/>
<line x1="442" y1="419" x2="452.5" y2="419.2" stroke="#6a6a6a" stroke-width="1.2" stroke-linecap="round" filter="url(#b05)"/>
<polygon points="487.0,425.0 492.0,423.0 499.0,423.5 504.0,427.0 506.0,432.0 506.0,435.0 509.0,436.0 518.5,436.8 518.5,437.8 508.0,438.5 504.0,440.0 498.0,443.0 492.0,445.0 487.0,443.5 485.0,438.0 486.0,431.0" fill="#2e2e2e" opacity="1" filter="url(#b12)"/>
<ellipse cx="496.5" cy="429.5" rx="6.5" ry="5.5" fill="#555" opacity="1" filter="url(#b12)" transform="rotate(0 496.5 429.5)"/>
<ellipse cx="491.3" cy="438.8" rx="5.2" ry="5.4" fill="#aaaaaa" opacity="1" filter="url(#b08)" transform="rotate(0 491.3 438.8)"/>
<ellipse cx="490" cy="439.5" rx="2.7" ry="2.7" fill="#c8c8c8" opacity="1" filter="url(#b08)" transform="rotate(0 490 439.5)"/>
<ellipse cx="499.1" cy="439.8" rx="2.4" ry="2.4" fill="#e4e4e4" opacity="1" filter="url(#b08)" transform="rotate(0 499.1 439.8)"/>
<ellipse cx="507" cy="436.4" rx="2.2" ry="1.5" fill="#c8c8c8" opacity="1" filter="url(#b05)" transform="rotate(0 507 436.4)"/>
<ellipse cx="489.4" cy="425.1" rx="1.4" ry="1.4" fill="#aaaaaa" opacity="1" filter="url(#b05)" transform="rotate(0 489.4 425.1)"/>
<line x1="509" y1="437.1" x2="518.5" y2="437.3" stroke="#5a5a5a" stroke-width="1.0" stroke-linecap="round" filter="url(#b05)"/>
<polygon points="426.0,451.0 431.0,447.5 437.0,447.0 441.0,445.5 445.5,447.0 446.0,452.0 443.0,456.0 441.0,460.5 436.0,461.0 432.0,463.0 430.0,466.0 427.0,461.0 425.5,456.0" fill="#2e2e2e" opacity="1" filter="url(#b12)"/>
<ellipse cx="442.9" cy="450.4" rx="3.0" ry="4.4" fill="#7c7c7c" opacity="1" filter="url(#b08)" transform="rotate(0 442.9 450.4)"/>
<ellipse cx="430" cy="453.4" rx="3.8" ry="3.4" fill="#626262" opacity="1" filter="url(#b08)" transform="rotate(0 430 453.4)"/>
<ellipse cx="437.2" cy="457.5" rx="3.6" ry="2.9" fill="#e0e0e0" opacity="1" filter="url(#b08)" transform="rotate(0 437.2 457.5)"/>
<ellipse cx="437.2" cy="457.5" rx="2.2" ry="1.8" fill="#f4f4f4" opacity="1" filter="url(#b05)" transform="rotate(0 437.2 457.5)"/>
<ellipse cx="430" cy="462" rx="1.6" ry="3.4" fill="#444" opacity="1" filter="url(#b08)" transform="rotate(0 430 462)"/>
<ellipse cx="472.3" cy="475.0" rx="8.9" ry="8.9" fill="url(#rcc)" filter="url(#b08)"/>
<ellipse cx="477.5" cy="473.6" rx="1.0" ry="1.1" fill="#262626" opacity="0.6" filter="url(#b05)" transform="rotate(9 477.5 473.6)"/>
<ellipse cx="468.8" cy="478.5" rx="0.9" ry="0.9" fill="#767676" opacity="0.6" filter="url(#b05)" transform="rotate(140 468.8 478.5)"/>
<ellipse cx="472.1" cy="476.7" rx="0.8" ry="0.8" fill="#6e6e6e" opacity="0.6" filter="url(#b05)" transform="rotate(166 472.1 476.7)"/>
<ellipse cx="475.6" cy="478.7" rx="0.9" ry="1.0" fill="#262626" opacity="0.6" filter="url(#b05)" transform="rotate(32 475.6 478.7)"/>
<ellipse cx="468.6" cy="473.6" rx="1.8" ry="1.0" fill="#303030" opacity="0.6" filter="url(#b05)" transform="rotate(75 468.6 473.6)"/>
<ellipse cx="469.6" cy="477.5" rx="0.8" ry="1.0" fill="#303030" opacity="0.6" filter="url(#b05)" transform="rotate(175 469.6 477.5)"/>
<ellipse cx="467.4" cy="471.8" rx="1.0" ry="0.8" fill="#262626" opacity="0.6" filter="url(#b05)" transform="rotate(154 467.4 471.8)"/>
<ellipse cx="471.1" cy="473.6" rx="1.0" ry="0.7" fill="#303030" opacity="0.6" filter="url(#b05)" transform="rotate(139 471.1 473.6)"/>
<ellipse cx="470.8" cy="477.8" rx="0.9" ry="0.7" fill="#262626" opacity="0.6" filter="url(#b05)" transform="rotate(115 470.8 477.8)"/>
<ellipse cx="475.8" cy="475.3" rx="1.3" ry="1.1" fill="#808080" opacity="0.6" filter="url(#b05)" transform="rotate(87 475.8 475.3)"/>
<ellipse cx="467.4" cy="472.5" rx="1.4" ry="0.8" fill="#303030" opacity="0.6" filter="url(#b05)" transform="rotate(41 467.4 472.5)"/>
<ellipse cx="468.5" cy="471.8" rx="1.5" ry="1.1" fill="#303030" opacity="0.6" filter="url(#b05)" transform="rotate(35 468.5 471.8)"/>
<ellipse cx="477.5" cy="473.3" rx="0.9" ry="0.6" fill="#808080" opacity="0.6" filter="url(#b05)" transform="rotate(20 477.5 473.3)"/>
<ellipse cx="469.3" cy="474.8" rx="1.1" ry="1.0" fill="#767676" opacity="0.6" filter="url(#b05)" transform="rotate(107 469.3 474.8)"/>
<ellipse cx="471.6" cy="477.4" rx="0.9" ry="0.8" fill="#262626" opacity="0.6" filter="url(#b05)" transform="rotate(118 471.6 477.4)"/>
<ellipse cx="471.1" cy="473.9" rx="1.7" ry="0.7" fill="#303030" opacity="0.6" filter="url(#b05)" transform="rotate(3 471.1 473.9)"/>
<ellipse cx="471.8" cy="478.9" rx="0.8" ry="0.7" fill="#262626" opacity="0.6" filter="url(#b05)" transform="rotate(96 471.8 478.9)"/>
<ellipse cx="474.1" cy="474.7" rx="1.7" ry="1.1" fill="#303030" opacity="0.6" filter="url(#b05)" transform="rotate(118 474.1 474.7)"/>
<ellipse cx="470.7" cy="470.8" rx="1.4" ry="1.1" fill="#303030" opacity="0.6" filter="url(#b05)" transform="rotate(85 470.7 470.8)"/>
<ellipse cx="470.3" cy="477.6" rx="0.8" ry="0.9" fill="#262626" opacity="0.6" filter="url(#b05)" transform="rotate(87 470.3 477.6)"/>
<ellipse cx="471.9" cy="471.7" rx="0.9" ry="0.9" fill="#262626" opacity="0.6" filter="url(#b05)" transform="rotate(133 471.9 471.7)"/>
<ellipse cx="476.4" cy="472.0" rx="1.6" ry="1.1" fill="#303030" opacity="0.6" filter="url(#b05)" transform="rotate(63 476.4 472.0)"/>
</g>
<g clip-path="url(#c2)">
<ellipse cx="496.2" cy="511.8" rx="8.6" ry="8.6" fill="url(#rc)" filter="url(#b08)"/>
<ellipse cx="494.1" cy="506.9" rx="1.7" ry="0.6" fill="#767676" opacity="0.6" filter="url(#b05)" transform="rotate(90 494.1 506.9)"/>
<ellipse cx="500.8" cy="512.2" rx="1.4" ry="0.9" fill="#767676" opacity="0.6" filter="url(#b05)" transform="rotate(14 500.8 512.2)"/>
<ellipse cx="492.6" cy="507.5" rx="1.5" ry="0.8" fill="#767676" opacity="0.6" filter="url(#b05)" transform="rotate(132 492.6 507.5)"/>
<ellipse cx="492.9" cy="510.0" rx="0.9" ry="1.0" fill="#808080" opacity="0.6" filter="url(#b05)" transform="rotate(5 492.9 510.0)"/>
<ellipse cx="493.1" cy="509.5" rx="1.8" ry="0.7" fill="#303030" opacity="0.6" filter="url(#b05)" transform="rotate(140 493.1 509.5)"/>
<ellipse cx="494.1" cy="508.5" rx="1.2" ry="0.7" fill="#262626" opacity="0.6" filter="url(#b05)" transform="rotate(110 494.1 508.5)"/>
<ellipse cx="491.3" cy="511.2" rx="1.5" ry="0.8" fill="#6e6e6e" opacity="0.6" filter="url(#b05)" transform="rotate(161 491.3 511.2)"/>
<ellipse cx="494.1" cy="515.9" rx="1.4" ry="1.0" fill="#303030" opacity="0.6" filter="url(#b05)" transform="rotate(136 494.1 515.9)"/>
<ellipse cx="497.0" cy="514.3" rx="1.4" ry="0.8" fill="#303030" opacity="0.6" filter="url(#b05)" transform="rotate(25 497.0 514.3)"/>
<ellipse cx="491.0" cy="511.9" rx="1.5" ry="1.1" fill="#262626" opacity="0.6" filter="url(#b05)" transform="rotate(50 491.0 511.9)"/>
<ellipse cx="498.0" cy="515.1" rx="1.7" ry="1.0" fill="#6e6e6e" opacity="0.6" filter="url(#b05)" transform="rotate(69 498.0 515.1)"/>
<ellipse cx="491.6" cy="511.2" rx="1.3" ry="0.6" fill="#808080" opacity="0.6" filter="url(#b05)" transform="rotate(6 491.6 511.2)"/>
<ellipse cx="497.0" cy="511.0" rx="1.4" ry="0.8" fill="#6e6e6e" opacity="0.6" filter="url(#b05)" transform="rotate(142 497.0 511.0)"/>
<ellipse cx="498.3" cy="512.0" rx="1.0" ry="1.0" fill="#767676" opacity="0.6" filter="url(#b05)" transform="rotate(48 498.3 512.0)"/>
<ellipse cx="497.1" cy="506.9" rx="1.2" ry="0.9" fill="#262626" opacity="0.6" filter="url(#b05)" transform="rotate(118 497.1 506.9)"/>
<ellipse cx="498.1" cy="506.6" rx="1.0" ry="0.8" fill="#303030" opacity="0.6" filter="url(#b05)" transform="rotate(32 498.1 506.6)"/>
<ellipse cx="500.1" cy="512.1" rx="1.0" ry="0.7" fill="#262626" opacity="0.6" filter="url(#b05)" transform="rotate(62 500.1 512.1)"/>
<ellipse cx="494.9" cy="508.0" rx="1.8" ry="0.7" fill="#808080" opacity="0.6" filter="url(#b05)" transform="rotate(153 494.9 508.0)"/>
<ellipse cx="460.4" cy="536.7" rx="9.5" ry="9.3" fill="url(#rc)" filter="url(#b08)"/>
<ellipse cx="459.5" cy="533.9" rx="1.7" ry="1.0" fill="#767676" opacity="0.6" filter="url(#b05)" transform="rotate(23 459.5 533.9)"/>
<ellipse cx="455.6" cy="538.1" rx="1.2" ry="0.9" fill="#262626" opacity="0.6" filter="url(#b05)" transform="rotate(158 455.6 538.1)"/>
<ellipse cx="462.2" cy="531.0" rx="1.1" ry="1.1" fill="#767676" opacity="0.6" filter="url(#b05)" transform="rotate(18 462.2 531.0)"/>
<ellipse cx="464.2" cy="532.6" rx="1.0" ry="1.0" fill="#262626" opacity="0.6" filter="url(#b05)" transform="rotate(176 464.2 532.6)"/>
<ellipse cx="465.0" cy="536.1" rx="1.1" ry="1.0" fill="#6e6e6e" opacity="0.6" filter="url(#b05)" transform="rotate(3 465.0 536.1)"/>
<ellipse cx="459.2" cy="536.7" rx="1.4" ry="1.0" fill="#6e6e6e" opacity="0.6" filter="url(#b05)" transform="rotate(88 459.2 536.7)"/>
<ellipse cx="466.0" cy="537.7" rx="1.2" ry="0.6" fill="#262626" opacity="0.6" filter="url(#b05)" transform="rotate(96 466.0 537.7)"/>
<ellipse cx="458.1" cy="531.3" rx="0.9" ry="0.9" fill="#767676" opacity="0.6" filter="url(#b05)" transform="rotate(130 458.1 531.3)"/>
<ellipse cx="463.2" cy="532.4" rx="1.4" ry="0.9" fill="#767676" opacity="0.6" filter="url(#b05)" transform="rotate(136 463.2 532.4)"/>
<ellipse cx="456.0" cy="538.4" rx="1.4" ry="0.9" fill="#808080" opacity="0.6" filter="url(#b05)" transform="rotate(152 456.0 538.4)"/>
<ellipse cx="457.1" cy="535.4" rx="1.8" ry="1.0" fill="#767676" opacity="0.6" filter="url(#b05)" transform="rotate(110 457.1 535.4)"/>
<ellipse cx="459.6" cy="538.9" rx="1.3" ry="0.9" fill="#808080" opacity="0.6" filter="url(#b05)" transform="rotate(36 459.6 538.9)"/>
<ellipse cx="456.0" cy="535.7" rx="1.2" ry="0.9" fill="#808080" opacity="0.6" filter="url(#b05)" transform="rotate(8 456.0 535.7)"/>
<ellipse cx="464.4" cy="534.4" rx="0.9" ry="0.6" fill="#808080" opacity="0.6" filter="url(#b05)" transform="rotate(30 464.4 534.4)"/>
<ellipse cx="464.3" cy="534.9" rx="1.1" ry="0.8" fill="#767676" opacity="0.6" filter="url(#b05)" transform="rotate(23 464.3 534.9)"/>
<ellipse cx="455.2" cy="539.0" rx="1.3" ry="0.7" fill="#767676" opacity="0.6" filter="url(#b05)" transform="rotate(76 455.2 539.0)"/>
<ellipse cx="463.6" cy="537.3" rx="0.8" ry="0.7" fill="#262626" opacity="0.6" filter="url(#b05)" transform="rotate(2 463.6 537.3)"/>
<ellipse cx="459.3" cy="541.8" rx="1.4" ry="0.7" fill="#303030" opacity="0.6" filter="url(#b05)" transform="rotate(132 459.3 541.8)"/>
<ellipse cx="498.6" cy="555.4" rx="8.4" ry="9.4" fill="url(#rc)" filter="url(#b08)"/>
<ellipse cx="501.4" cy="558.5" rx="1.5" ry="1.0" fill="#6e6e6e" opacity="0.6" filter="url(#b05)" transform="rotate(158 501.4 558.5)"/>
<ellipse cx="502.9" cy="556.1" rx="1.4" ry="0.9" fill="#808080" opacity="0.6" filter="url(#b05)" transform="rotate(155 502.9 556.1)"/>
<ellipse cx="496.1" cy="554.8" rx="1.7" ry="0.9" fill="#303030" opacity="0.6" filter="url(#b05)" transform="rotate(154 496.1 554.8)"/>
<ellipse cx="499.1" cy="560.7" rx="1.7" ry="0.8" fill="#6e6e6e" opacity="0.6" filter="url(#b05)" transform="rotate(57 499.1 560.7)"/>
<ellipse cx="500.9" cy="554.0" rx="1.7" ry="0.7" fill="#303030" opacity="0.6" filter="url(#b05)" transform="rotate(43 500.9 554.0)"/>
<ellipse cx="498.2" cy="552.3" rx="1.2" ry="1.1" fill="#262626" opacity="0.6" filter="url(#b05)" transform="rotate(98 498.2 552.3)"/>
<ellipse cx="497.9" cy="552.7" rx="0.9" ry="0.9" fill="#262626" opacity="0.6" filter="url(#b05)" transform="rotate(64 497.9 552.7)"/>
<ellipse cx="500.0" cy="552.0" rx="1.4" ry="0.8" fill="#808080" opacity="0.6" filter="url(#b05)" transform="rotate(180 500.0 552.0)"/>
<ellipse cx="501.0" cy="550.6" rx="0.9" ry="0.6" fill="#767676" opacity="0.6" filter="url(#b05)" transform="rotate(99 501.0 550.6)"/>
<ellipse cx="494.5" cy="555.0" rx="1.0" ry="0.7" fill="#303030" opacity="0.6" filter="url(#b05)" transform="rotate(31 494.5 555.0)"/>
<ellipse cx="500.2" cy="558.2" rx="1.4" ry="0.7" fill="#262626" opacity="0.6" filter="url(#b05)" transform="rotate(123 500.2 558.2)"/>
<ellipse cx="500.1" cy="556.3" rx="1.3" ry="0.9" fill="#767676" opacity="0.6" filter="url(#b05)" transform="rotate(77 500.1 556.3)"/>
<ellipse cx="498.1" cy="555.0" rx="1.6" ry="0.7" fill="#262626" opacity="0.6" filter="url(#b05)" transform="rotate(82 498.1 555.0)"/>
<ellipse cx="498.4" cy="551.4" rx="1.4" ry="0.6" fill="#303030" opacity="0.6" filter="url(#b05)" transform="rotate(143 498.4 551.4)"/>
<ellipse cx="498.6" cy="555.4" rx="6.2" ry="7.2" fill="none" stroke="#5e5e5e" stroke-width="1.1" filter="url(#b05)"/>
<ellipse cx="421.4" cy="562.7" rx="7.4" ry="7.4" fill="url(#rcd)" filter="url(#b08)"/>
<ellipse cx="420.8" cy="563.9" rx="1.4" ry="0.7" fill="#767676" opacity="0.6" filter="url(#b05)" transform="rotate(105 420.8 563.9)"/>
<ellipse cx="419.2" cy="566.2" rx="1.7" ry="1.0" fill="#6e6e6e" opacity="0.6" filter="url(#b05)" transform="rotate(140 419.2 566.2)"/>
<ellipse cx="422.6" cy="559.9" rx="1.7" ry="0.9" fill="#6e6e6e" opacity="0.6" filter="url(#b05)" transform="rotate(138 422.6 559.9)"/>
<ellipse cx="421.7" cy="559.7" rx="0.9" ry="0.8" fill="#303030" opacity="0.6" filter="url(#b05)" transform="rotate(84 421.7 559.7)"/>
<ellipse cx="424.2" cy="562.9" rx="0.8" ry="0.7" fill="#808080" opacity="0.6" filter="url(#b05)" transform="rotate(173 424.2 562.9)"/>
<ellipse cx="420.7" cy="564.8" rx="1.4" ry="0.9" fill="#767676" opacity="0.6" filter="url(#b05)" transform="rotate(70 420.7 564.8)"/>
<ellipse cx="425.2" cy="562.7" rx="1.6" ry="1.1" fill="#262626" opacity="0.6" filter="url(#b05)" transform="rotate(4 425.2 562.7)"/>
<ellipse cx="418.3" cy="560.0" rx="1.2" ry="0.9" fill="#6e6e6e" opacity="0.6" filter="url(#b05)" transform="rotate(137 418.3 560.0)"/>
<ellipse cx="421.1" cy="562.3" rx="1.1" ry="1.1" fill="#6e6e6e" opacity="0.6" filter="url(#b05)" transform="rotate(99 421.1 562.3)"/>
<ellipse cx="416.7" cy="562.5" rx="1.6" ry="0.6" fill="#808080" opacity="0.6" filter="url(#b05)" transform="rotate(80 416.7 562.5)"/>
<ellipse cx="419.2" cy="559.9" rx="1.2" ry="1.1" fill="#262626" opacity="0.6" filter="url(#b05)" transform="rotate(69 419.2 559.9)"/>
<ellipse cx="425.7" cy="561.9" rx="1.4" ry="0.6" fill="#808080" opacity="0.6" filter="url(#b05)" transform="rotate(170 425.7 561.9)"/>
<ellipse cx="461.9" cy="582.9" rx="9.7" ry="9.4" fill="url(#rcb)" filter="url(#b08)"/>
<ellipse cx="457.8" cy="585.1" rx="1.1" ry="0.9" fill="#808080" opacity="0.6" filter="url(#b05)" transform="rotate(87 457.8 585.1)"/>
<ellipse cx="461.1" cy="588.9" rx="0.8" ry="1.0" fill="#6e6e6e" opacity="0.6" filter="url(#b05)" transform="rotate(105 461.1 588.9)"/>
<ellipse cx="459.1" cy="579.9" rx="0.9" ry="0.8" fill="#767676" opacity="0.6" filter="url(#b05)" transform="rotate(72 459.1 579.9)"/>
<ellipse cx="457.1" cy="580.3" rx="0.9" ry="1.1" fill="#6e6e6e" opacity="0.6" filter="url(#b05)" transform="rotate(77 457.1 580.3)"/>
<ellipse cx="455.6" cy="583.8" rx="0.8" ry="0.6" fill="#303030" opacity="0.6" filter="url(#b05)" transform="rotate(146 455.6 583.8)"/>
<ellipse cx="464.0" cy="581.6" rx="1.4" ry="0.7" fill="#303030" opacity="0.6" filter="url(#b05)" transform="rotate(112 464.0 581.6)"/>
<ellipse cx="459.1" cy="583.7" rx="1.2" ry="0.7" fill="#262626" opacity="0.6" filter="url(#b05)" transform="rotate(65 459.1 583.7)"/>
<ellipse cx="464.6" cy="586.0" rx="1.1" ry="0.9" fill="#808080" opacity="0.6" filter="url(#b05)" transform="rotate(76 464.6 586.0)"/>
<ellipse cx="462.7" cy="578.4" rx="1.8" ry="1.0" fill="#303030" opacity="0.6" filter="url(#b05)" transform="rotate(43 462.7 578.4)"/>
<ellipse cx="466.5" cy="586.8" rx="1.4" ry="0.8" fill="#808080" opacity="0.6" filter="url(#b05)" transform="rotate(49 466.5 586.8)"/>
<ellipse cx="460.0" cy="578.6" rx="1.0" ry="0.7" fill="#808080" opacity="0.6" filter="url(#b05)" transform="rotate(43 460.0 578.6)"/>
<ellipse cx="466.3" cy="581.6" rx="1.7" ry="0.6" fill="#303030" opacity="0.6" filter="url(#b05)" transform="rotate(11 466.3 581.6)"/>
<ellipse cx="461.3" cy="586.9" rx="0.8" ry="0.7" fill="#808080" opacity="0.6" filter="url(#b05)" transform="rotate(50 461.3 586.9)"/>
<ellipse cx="462.1" cy="577.0" rx="1.4" ry="0.9" fill="#303030" opacity="0.6" filter="url(#b05)" transform="rotate(67 462.1 577.0)"/>
<ellipse cx="459.0" cy="583.3" rx="1.3" ry="0.7" fill="#6e6e6e" opacity="0.6" filter="url(#b05)" transform="rotate(157 459.0 583.3)"/>
<ellipse cx="463.3" cy="579.0" rx="1.6" ry="1.0" fill="#808080" opacity="0.6" filter="url(#b05)" transform="rotate(80 463.3 579.0)"/>
<ellipse cx="461.8" cy="579.0" rx="1.2" ry="0.9" fill="#303030" opacity="0.6" filter="url(#b05)" transform="rotate(178 461.8 579.0)"/>
<ellipse cx="459.7" cy="587.0" rx="1.2" ry="0.8" fill="#303030" opacity="0.6" filter="url(#b05)" transform="rotate(17 459.7 587.0)"/>
<ellipse cx="463.2" cy="581.7" rx="1.2" ry="0.9" fill="#262626" opacity="0.6" filter="url(#b05)" transform="rotate(147 463.2 581.7)"/>
<ellipse cx="456.2" cy="584.2" rx="0.9" ry="0.7" fill="#262626" opacity="0.6" filter="url(#b05)" transform="rotate(119 456.2 584.2)"/>
<ellipse cx="511.3" cy="612.6" rx="8.2" ry="8.0" fill="url(#rc)" filter="url(#b08)"/>
<ellipse cx="513.9" cy="614.0" rx="1.1" ry="0.7" fill="#6e6e6e" opacity="0.6" filter="url(#b05)" transform="rotate(64 513.9 614.0)"/>
<ellipse cx="510.8" cy="609.5" rx="1.1" ry="0.8" fill="#262626" opacity="0.6" filter="url(#b05)" transform="rotate(107 510.8 609.5)"/>
<ellipse cx="514.9" cy="610.1" rx="1.2" ry="1.0" fill="#6e6e6e" opacity="0.6" filter="url(#b05)" transform="rotate(55 514.9 610.1)"/>
<ellipse cx="509.9" cy="615.6" rx="1.0" ry="0.8" fill="#808080" opacity="0.6" filter="url(#b05)" transform="rotate(66 509.9 615.6)"/>
<ellipse cx="509.1" cy="615.1" rx="1.6" ry="1.0" fill="#767676" opacity="0.6" filter="url(#b05)" transform="rotate(66 509.1 615.1)"/>
<ellipse cx="509.7" cy="613.9" rx="1.4" ry="0.7" fill="#808080" opacity="0.6" filter="url(#b05)" transform="rotate(137 509.7 613.9)"/>
<ellipse cx="513.4" cy="610.7" rx="1.0" ry="0.6" fill="#262626" opacity="0.6" filter="url(#b05)" transform="rotate(29 513.4 610.7)"/>
<ellipse cx="511.1" cy="613.3" rx="0.9" ry="0.9" fill="#767676" opacity="0.6" filter="url(#b05)" transform="rotate(142 511.1 613.3)"/>
<ellipse cx="512.6" cy="613.3" rx="1.7" ry="0.6" fill="#262626" opacity="0.6" filter="url(#b05)" transform="rotate(114 512.6 613.3)"/>
<ellipse cx="514.2" cy="616.1" rx="1.0" ry="0.7" fill="#767676" opacity="0.6" filter="url(#b05)" transform="rotate(138 514.2 616.1)"/>
<ellipse cx="506.7" cy="612.0" rx="1.2" ry="1.0" fill="#767676" opacity="0.6" filter="url(#b05)" transform="rotate(60 506.7 612.0)"/>
<ellipse cx="513.7" cy="615.3" rx="1.5" ry="1.1" fill="#262626" opacity="0.6" filter="url(#b05)" transform="rotate(74 513.7 615.3)"/>
<ellipse cx="513.3" cy="608.8" rx="1.6" ry="1.0" fill="#262626" opacity="0.6" filter="url(#b05)" transform="rotate(160 513.3 608.8)"/>
<ellipse cx="515.4" cy="611.5" rx="1.2" ry="0.6" fill="#808080" opacity="0.6" filter="url(#b05)" transform="rotate(20 515.4 611.5)"/>
<ellipse cx="446.3" cy="634.4" rx="7.0" ry="7.0" fill="url(#rcc)" filter="url(#b08)"/>
<ellipse cx="450.1" cy="632.4" rx="1.5" ry="1.1" fill="#303030" opacity="0.6" filter="url(#b05)" transform="rotate(68 450.1 632.4)"/>
<ellipse cx="447.3" cy="636.1" rx="1.3" ry="0.7" fill="#767676" opacity="0.6" filter="url(#b05)" transform="rotate(159 447.3 636.1)"/>
<ellipse cx="442.6" cy="635.1" rx="1.4" ry="1.0" fill="#6e6e6e" opacity="0.6" filter="url(#b05)" transform="rotate(32 442.6 635.1)"/>
<ellipse cx="449.1" cy="635.6" rx="1.3" ry="1.0" fill="#808080" opacity="0.6" filter="url(#b05)" transform="rotate(56 449.1 635.6)"/>
<ellipse cx="447.2" cy="636.9" rx="1.0" ry="1.0" fill="#808080" opacity="0.6" filter="url(#b05)" transform="rotate(107 447.2 636.9)"/>
<ellipse cx="446.6" cy="636.3" rx="1.2" ry="1.1" fill="#6e6e6e" opacity="0.6" filter="url(#b05)" transform="rotate(169 446.6 636.3)"/>
<ellipse cx="443.3" cy="631.3" rx="1.3" ry="0.7" fill="#808080" opacity="0.6" filter="url(#b05)" transform="rotate(160 443.3 631.3)"/>
<ellipse cx="448.5" cy="633.1" rx="1.6" ry="0.6" fill="#808080" opacity="0.6" filter="url(#b05)" transform="rotate(155 448.5 633.1)"/>
<ellipse cx="444.6" cy="635.6" rx="1.6" ry="0.8" fill="#303030" opacity="0.6" filter="url(#b05)" transform="rotate(95 444.6 635.6)"/>
<ellipse cx="444.0" cy="634.2" rx="1.5" ry="0.7" fill="#262626" opacity="0.6" filter="url(#b05)" transform="rotate(2 444.0 634.2)"/>
<polygon points="447.5,633.0 452.5,636.5 447.5,638.5" fill="#f0f0f0" filter="url(#b05)"/>
<ellipse cx="492.0" cy="644.8" rx="8.2" ry="8.8" fill="url(#rc)" filter="url(#b08)"/>
<ellipse cx="488.8" cy="645.4" rx="1.5" ry="0.9" fill="#303030" opacity="0.6" filter="url(#b05)" transform="rotate(28 488.8 645.4)"/>
<ellipse cx="493.7" cy="647.5" rx="1.7" ry="1.0" fill="#6e6e6e" opacity="0.6" filter="url(#b05)" transform="rotate(24 493.7 647.5)"/>
<ellipse cx="491.8" cy="640.3" rx="1.3" ry="0.7" fill="#808080" opacity="0.6" filter="url(#b05)" transform="rotate(139 491.8 640.3)"/>
<ellipse cx="496.8" cy="644.8" rx="1.6" ry="0.6" fill="#303030" opacity="0.6" filter="url(#b05)" transform="rotate(49 496.8 644.8)"/>
<ellipse cx="491.7" cy="643.0" rx="1.5" ry="0.6" fill="#767676" opacity="0.6" filter="url(#b05)" transform="rotate(135 491.7 643.0)"/>
<ellipse cx="488.3" cy="643.7" rx="1.6" ry="0.8" fill="#262626" opacity="0.6" filter="url(#b05)" transform="rotate(165 488.3 643.7)"/>
<ellipse cx="496.1" cy="647.6" rx="0.8" ry="0.8" fill="#303030" opacity="0.6" filter="url(#b05)" transform="rotate(89 496.1 647.6)"/>
<ellipse cx="497.0" cy="642.9" rx="1.1" ry="0.6" fill="#6e6e6e" opacity="0.6" filter="url(#b05)" transform="rotate(55 497.0 642.9)"/>
<ellipse cx="487.6" cy="645.8" rx="0.9" ry="0.7" fill="#6e6e6e" opacity="0.6" filter="url(#b05)" transform="rotate(120 487.6 645.8)"/>
<ellipse cx="489.9" cy="640.3" rx="1.5" ry="0.6" fill="#262626" opacity="0.6" filter="url(#b05)" transform="rotate(68 489.9 640.3)"/>
<ellipse cx="491.4" cy="642.1" rx="0.9" ry="1.0" fill="#808080" opacity="0.6" filter="url(#b05)" transform="rotate(154 491.4 642.1)"/>
<ellipse cx="494.5" cy="640.7" rx="1.0" ry="0.9" fill="#808080" opacity="0.6" filter="url(#b05)" transform="rotate(169 494.5 640.7)"/>
<ellipse cx="492.0" cy="639.1" rx="1.4" ry="0.6" fill="#767676" opacity="0.6" filter="url(#b05)" transform="rotate(34 492.0 639.1)"/>
<ellipse cx="490.7" cy="646.1" rx="1.7" ry="0.9" fill="#6e6e6e" opacity="0.6" filter="url(#b05)" transform="rotate(130 490.7 646.1)"/>
<ellipse cx="489.6" cy="649.4" rx="0.9" ry="0.9" fill="#262626" opacity="0.6" filter="url(#b05)" transform="rotate(24 489.6 649.4)"/>
<ellipse cx="490.5" cy="643.0" rx="1.2" ry="1.0" fill="#303030" opacity="0.6" filter="url(#b05)" transform="rotate(107 490.5 643.0)"/>
<ellipse cx="494.1" cy="646.3" rx="1.8" ry="0.8" fill="#303030" opacity="0.6" filter="url(#b05)" transform="rotate(139 494.1 646.3)"/>
<ellipse cx="489.4" cy="649.2" rx="0.9" ry="0.7" fill="#808080" opacity="0.6" filter="url(#b05)" transform="rotate(27 489.4 649.2)"/>
</g>
<text x="412.75" y="483.70" font-family="Liberation Sans" font-size="12" font-weight="bold" fill="#fff" textLength="19.81" lengthAdjust="spacingAndGlyphs" >+/+</text>
<text x="419.60" y="661.00" font-family="Liberation Sans" font-size="12" font-weight="bold" fill="#fff" textLength="16.27" lengthAdjust="spacingAndGlyphs" >-/-</text>
</svg>
</body></html>
